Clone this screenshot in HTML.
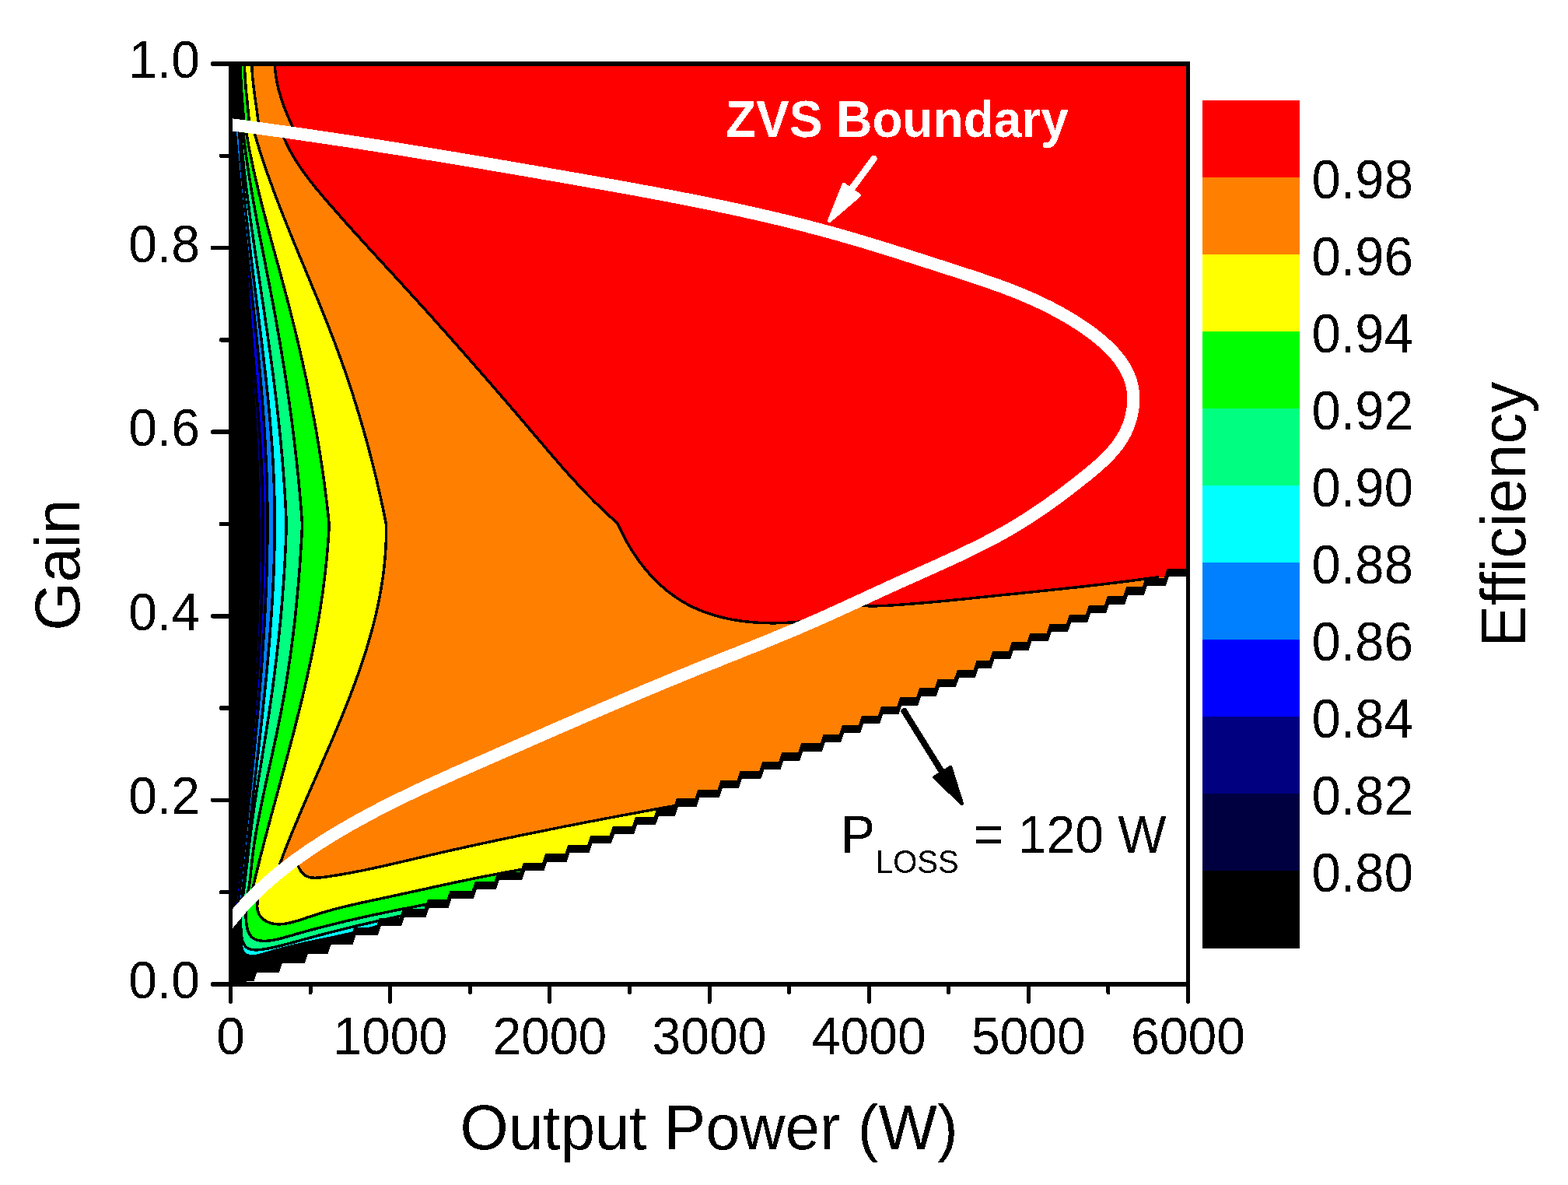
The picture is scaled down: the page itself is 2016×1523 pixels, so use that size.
<!DOCTYPE html><html><head><meta charset="utf-8"><title>Efficiency contour</title>
<style>html,body{margin:0;padding:0;background:#fff;}svg{display:block;}text{font-family:"Liberation Sans",Arial,Helvetica,sans-serif;}</style></head><body>
<svg width="2016" height="1523" viewBox="0 0 2016 1523" shape-rendering="crispEdges">
<rect width="2016" height="1523" fill="#fff"/>
<defs>
<clipPath id="cd"><path d="M1530,79 L294,79 L294,1251.5 L324.3,1251.5 L328.3,1239.7 L356.8,1239.7 L360.8,1227.8 L389.8,1227.8 L393.8,1216 L419.5,1216 L423.5,1204.2 L451.2,1204.2 L455.2,1192.4 L483.6,1192.4 L487.6,1180.5 L513.8,1180.5 L517.8,1168.7 L545.6,1168.7 L549.6,1156.9 L574.5,1156.9 L578.5,1145.1 L606.8,1145.1 L610.8,1133.2 L635.5,1133.2 L639.5,1121.4 L668.8,1121.4 L672.8,1109.6 L697.2,1109.6 L701.2,1097.8 L726.3,1097.8 L730.3,1086 L755.3,1086 L759.3,1074.1 L783.8,1074.1 L787.8,1062.3 L812.9,1062.3 L816.9,1050.5 L840.7,1050.5 L844.7,1038.7 L865.7,1038.7 L869.7,1026.8 L893.5,1026.8 L897.5,1015 L922.7,1015 L926.7,1003.2 L947.7,1003.2 L951.7,991.4 L976.1,991.4 L980.1,979.5 L1001.1,979.5 L1005.1,967.7 L1026.1,967.7 L1030.1,955.9 L1054.6,955.9 L1058.6,944 L1078.9,944 L1082.9,932.2 L1103.9,932.2 L1107.9,920.4 L1128.9,920.4 L1132.9,908.6 L1153.2,908.6 L1157.2,896.8 L1178.2,896.8 L1182.2,884.9 L1201.8,884.9 L1205.8,873.1 L1226.8,873.1 L1230.8,861.3 L1251.5,861.3 L1255.5,849.5 L1272.3,849.5 L1276.3,837.6 L1296.8,837.6 L1300.8,825.8 L1320.5,825.8 L1324.5,814 L1345.7,814 L1349.7,802.2 L1370.8,802.2 L1374.8,790.3 L1396,790.3 L1400,778.5 L1419.8,778.5 L1423.8,766.7 L1444.2,766.7 L1448.2,754.9 L1468.7,754.9 L1472.7,743 L1496.7,743 L1500.7,731.2 L1530,731.2Z"/></clipPath>
<clipPath id="ci"><path d="M299,160.4 L302.7,160.9 L306.4,161.4 L310.1,161.9 L313.8,162.3 L317.5,162.8 L321.2,163.3 L324.9,163.8 L328.6,164.3 L332.3,164.8 L336,165.3 L339.7,165.8 L343.4,166.3 L347.1,166.9 L350.8,167.4 L354.5,167.9 L358.2,168.4 L361.9,168.9 L365.6,169.4 L369.3,170 L373,170.5 L376.7,171 L380.4,171.5 L384.1,172.1 L387.8,172.6 L391.5,173.1 L395.2,173.7 L398.9,174.2 L402.6,174.7 L406.3,175.3 L410,175.8 L413.7,176.4 L417.4,176.9 L421.1,177.5 L424.8,178 L428.5,178.6 L432.2,179.1 L435.9,179.7 L439.5,180.2 L443.2,180.8 L446.9,181.3 L450.6,181.9 L454.3,182.5 L458,183 L461.7,183.6 L465.4,184.2 L469.1,184.7 L472.8,185.3 L476.5,185.9 L480.2,186.5 L483.8,187 L487.5,187.6 L491.2,188.2 L494.9,188.8 L498.6,189.4 L502.3,189.9 L506,190.5 L509.7,191.1 L513.4,191.7 L517,192.3 L520.7,192.9 L524.4,193.5 L528.1,194.1 L531.8,194.7 L535.5,195.3 L539.2,195.9 L542.8,196.5 L546.5,197.1 L550.2,197.7 L553.9,198.3 L557.6,198.9 L561.3,199.5 L565,200.1 L568.6,200.7 L572.3,201.3 L576,201.9 L579.7,202.5 L583.4,203.1 L587.1,203.7 L590.7,204.4 L594.4,205 L598.1,205.6 L601.8,206.2 L605.5,206.8 L609.2,207.4 L612.8,208.1 L616.5,208.7 L620.2,209.3 L623.9,209.9 L627.6,210.6 L631.3,211.2 L634.9,211.8 L638.6,212.4 L642.3,213.1 L646,213.7 L649.7,214.3 L653.3,214.9 L657,215.6 L660.7,216.2 L664.4,216.8 L668.1,217.5 L671.8,218.1 L675.4,218.7 L679.1,219.4 L682.8,220 L686.5,220.6 L690.2,221.3 L693.8,221.9 L697.5,222.6 L701.2,223.2 L704.9,223.8 L708.6,224.5 L712.2,225.1 L715.9,225.8 L719.6,226.4 L723.3,227 L727,227.7 L730.6,228.3 L734.3,229 L738,229.6 L741.7,230.3 L745.3,230.9 L749,231.5 L752.7,232.2 L756.4,232.8 L760.1,233.5 L763.7,234.1 L767.4,234.8 L771.1,235.4 L774.8,236.1 L778.5,236.7 L782.1,237.4 L785.8,238.1 L789.5,238.7 L793.2,239.4 L796.8,240 L800.5,240.7 L804.2,241.3 L807.9,242 L811.5,242.7 L815.2,243.3 L818.9,244 L822.6,244.7 L826.2,245.4 L829.9,246 L833.6,246.7 L837.3,247.4 L840.9,248.1 L844.6,248.8 L848.3,249.5 L851.9,250.2 L855.6,250.8 L859.3,251.5 L862.9,252.2 L866.6,253 L870.3,253.7 L873.9,254.4 L877.6,255.1 L881.3,255.8 L884.9,256.5 L888.6,257.2 L892.3,258 L895.9,258.7 L899.6,259.4 L903.2,260.2 L906.9,260.9 L910.6,261.7 L914.2,262.4 L917.9,263.2 L921.5,263.9 L925.2,264.7 L928.8,265.4 L932.5,266.2 L936.1,267 L939.8,267.8 L943.5,268.6 L947.1,269.3 L950.7,270.1 L954.4,270.9 L958,271.7 L961.7,272.6 L965.3,273.4 L969,274.2 L972.6,275 L976.3,275.8 L979.9,276.7 L983.5,277.5 L987.2,278.4 L990.8,279.2 L994.4,280.1 L998.1,280.9 L1001.7,281.8 L1005.3,282.7 L1009,283.6 L1012.6,284.4 L1016.2,285.3 L1019.9,286.2 L1023.5,287.1 L1027.1,288.1 L1030.7,289 L1034.4,289.9 L1038,290.8 L1041.6,291.8 L1045.2,292.7 L1048.8,293.7 L1052.4,294.6 L1056,295.6 L1059.7,296.6 L1063.3,297.5 L1066.9,298.5 L1070.5,299.5 L1074.1,300.5 L1077.7,301.5 L1081.3,302.6 L1084.9,303.6 L1088.5,304.6 L1092.1,305.7 L1095.7,306.7 L1099.3,307.7 L1102.9,308.8 L1106.5,309.9 L1110,310.9 L1113.6,312 L1117.2,313.1 L1120.8,314.2 L1124.4,315.3 L1128,316.4 L1131.5,317.5 L1135.1,318.6 L1138.7,319.7 L1142.3,320.8 L1145.8,321.9 L1149.4,323 L1153,324.2 L1156.6,325.3 L1160.1,326.4 L1163.7,327.6 L1167.2,328.7 L1170.8,329.8 L1174.4,331 L1177.9,332.1 L1181.5,333.2 L1185,334.4 L1188.6,335.5 L1192.1,336.7 L1195.7,337.8 L1199.3,339 L1202.8,340.1 L1206.3,341.2 L1209.9,342.4 L1213.4,343.5 L1217,344.7 L1220.5,345.8 L1224.1,346.9 L1227.6,348.1 L1231.1,349.2 L1234.7,350.4 L1238.2,351.5 L1241.7,352.7 L1245.2,353.8 L1248.8,355 L1252.3,356.1 L1255.8,357.3 L1259.3,358.5 L1262.8,359.7 L1266.3,360.9 L1269.8,362.1 L1273.3,363.3 L1276.8,364.5 L1280.3,365.7 L1283.8,367 L1287.3,368.3 L1290.7,369.5 L1294.2,370.8 L1297.7,372.2 L1301.1,373.5 L1304.6,374.9 L1308,376.2 L1311.4,377.6 L1314.9,379 L1318.3,380.5 L1321.7,381.9 L1325.1,383.4 L1328.5,384.9 L1331.9,386.5 L1335.3,388 L1338.7,389.6 L1342,391.2 L1345.4,392.9 L1348.8,394.5 L1352.1,396.3 L1355.4,398 L1358.7,399.8 L1362.1,401.6 L1365.4,403.4 L1368.7,405.3 L1371.9,407.2 L1375.2,409.1 L1378.5,411.1 L1381.7,413.1 L1385,415.2 L1388.2,417.3 L1391.4,419.4 L1394.6,421.6 L1397.8,423.8 L1401,426.1 L1404.1,428.4 L1407.3,430.8 L1410.3,433.2 L1413.3,435.6 L1416.3,438.1 L1419.2,440.7 L1422.1,443.3 L1424.9,445.9 L1427.6,448.6 L1430.2,451.3 L1432.7,454.1 L1435.2,456.9 L1437.5,459.8 L1439.8,462.7 L1441.9,465.7 L1444,468.8 L1445.9,471.9 L1447.6,475 L1449.3,478.2 L1450.8,481.5 L1452.1,484.8 L1453.4,488.1 L1454.4,491.5 L1455.3,495 L1456,498.6 L1456.6,502.1 L1457,505.8 L1457.2,509.5 L1457.3,513.2 L1457.2,516.9 L1456.9,520.6 L1456.5,524.4 L1456,528.1 L1455.2,531.8 L1454.4,535.5 L1453.4,539.2 L1452.3,542.8 L1451,546.4 L1449.6,549.9 L1448.1,553.4 L1446.5,556.8 L1444.7,560 L1442.8,563.3 L1440.8,566.4 L1438.7,569.5 L1436.6,572.5 L1434.3,575.4 L1431.9,578.3 L1429.5,581.1 L1426.9,583.9 L1424.3,586.6 L1421.7,589.3 L1419,591.9 L1416.2,594.5 L1413.4,597 L1410.6,599.5 L1407.7,602 L1404.8,604.5 L1401.9,606.9 L1398.9,609.3 L1396,611.7 L1393,614.1 L1390,616.4 L1387.1,618.8 L1384.1,621.1 L1381.2,623.4 L1378.2,625.7 L1375.2,628 L1372.2,630.3 L1369.2,632.6 L1366.2,634.8 L1363.3,637.1 L1360.2,639.3 L1357.2,641.5 L1354.2,643.7 L1351.2,645.8 L1348.2,648 L1345.1,650.1 L1342.1,652.3 L1339,654.4 L1336,656.4 L1332.9,658.5 L1329.8,660.6 L1326.7,662.6 L1323.6,664.6 L1320.5,666.6 L1317.4,668.6 L1314.2,670.6 L1311.1,672.5 L1307.9,674.4 L1304.7,676.4 L1301.6,678.2 L1298.4,680.1 L1295.1,682 L1291.9,683.8 L1288.7,685.6 L1285.4,687.4 L1282.2,689.2 L1278.9,691 L1275.6,692.7 L1272.3,694.4 L1269,696.2 L1265.7,697.9 L1262.4,699.6 L1259,701.2 L1255.7,702.9 L1252.4,704.6 L1249,706.2 L1245.6,707.8 L1242.3,709.5 L1238.9,711.1 L1235.5,712.7 L1232.1,714.3 L1228.7,715.9 L1225.3,717.4 L1221.9,719 L1218.5,720.6 L1215.1,722.1 L1211.7,723.7 L1208.3,725.2 L1204.9,726.8 L1201.4,728.3 L1198,729.9 L1194.6,731.4 L1191.2,732.9 L1187.7,734.5 L1184.3,736 L1180.9,737.5 L1177.5,739.1 L1174,740.6 L1170.6,742.1 L1167.2,743.7 L1163.8,745.2 L1160.3,746.7 L1156.9,748.3 L1153.5,749.8 L1150.1,751.4 L1146.7,752.9 L1143.3,754.5 L1139.9,756 L1136.5,757.6 L1133.1,759.2 L1129.7,760.7 L1126.3,762.3 L1122.9,763.8 L1119.5,765.4 L1116.2,767 L1112.8,768.5 L1109.4,770.1 L1106,771.7 L1102.6,773.2 L1099.2,774.8 L1095.8,776.3 L1092.4,777.9 L1089,779.4 L1085.7,781 L1082.3,782.5 L1078.9,784.1 L1075.5,785.6 L1072.1,787.2 L1068.7,788.7 L1065.3,790.2 L1061.9,791.8 L1058.5,793.3 L1055.1,794.8 L1051.7,796.3 L1048.3,797.8 L1044.9,799.3 L1041.4,800.8 L1038,802.3 L1034.6,803.8 L1031.2,805.2 L1027.7,806.7 L1024.3,808.2 L1020.9,809.6 L1017.4,811.1 L1014,812.5 L1010.5,813.9 L1007.1,815.4 L1003.7,816.8 L1000.2,818.2 L996.7,819.6 L993.3,821.1 L989.8,822.5 L986.4,823.9 L982.9,825.3 L979.5,826.7 L976,828.1 L972.5,829.5 L969.1,830.9 L965.6,832.3 L962.1,833.6 L958.7,835 L955.2,836.4 L951.7,837.8 L948.3,839.2 L944.8,840.6 L941.3,842 L937.8,843.3 L934.4,844.7 L930.9,846.1 L927.4,847.5 L924,848.9 L920.5,850.3 L917,851.7 L913.5,853.1 L910.1,854.4 L906.6,855.8 L903.1,857.2 L899.7,858.6 L896.2,860 L892.7,861.4 L889.3,862.8 L885.8,864.3 L882.4,865.7 L878.9,867.1 L875.4,868.5 L872,869.9 L868.5,871.3 L865.1,872.8 L861.6,874.2 L858.2,875.6 L854.7,877 L851.3,878.5 L847.8,879.9 L844.4,881.4 L840.9,882.8 L837.5,884.2 L834,885.7 L830.6,887.1 L827.2,888.6 L823.7,890 L820.3,891.5 L816.8,892.9 L813.4,894.4 L809.9,895.8 L806.5,897.3 L803.1,898.8 L799.6,900.2 L796.2,901.7 L792.8,903.2 L789.3,904.6 L785.9,906.1 L782.5,907.6 L779,909 L775.6,910.5 L772.2,912 L768.7,913.5 L765.3,914.9 L761.9,916.4 L758.4,917.9 L755,919.4 L751.6,920.9 L748.2,922.3 L744.7,923.8 L741.3,925.3 L737.9,926.8 L734.4,928.3 L731,929.8 L727.6,931.3 L724.2,932.8 L720.7,934.2 L717.3,935.7 L713.9,937.2 L710.5,938.7 L707,940.2 L703.6,941.7 L700.2,943.2 L696.8,944.7 L693.4,946.2 L689.9,947.7 L686.5,949.2 L683.1,950.7 L679.7,952.2 L676.2,953.7 L672.8,955.2 L669.4,956.7 L666,958.2 L662.6,959.7 L659.1,961.2 L655.7,962.7 L652.3,964.2 L648.9,965.7 L645.5,967.2 L642,968.7 L638.6,970.2 L635.2,971.7 L631.8,973.2 L628.3,974.7 L624.9,976.2 L621.5,977.7 L618.1,979.2 L614.7,980.7 L611.2,982.2 L607.8,983.7 L604.4,985.2 L601,986.7 L597.6,988.2 L594.1,989.7 L590.7,991.2 L587.3,992.7 L583.9,994.2 L580.5,995.8 L577.1,997.3 L573.7,998.8 L570.3,1000.3 L566.9,1001.9 L563.5,1003.4 L560.1,1005 L556.7,1006.5 L553.3,1008.1 L549.9,1009.6 L546.5,1011.2 L543.1,1012.8 L539.7,1014.3 L536.4,1015.9 L533,1017.5 L529.6,1019.1 L526.2,1020.7 L522.9,1022.3 L519.5,1024 L516.2,1025.6 L512.8,1027.2 L509.5,1028.9 L506.1,1030.5 L502.8,1032.2 L499.4,1033.9 L496.1,1035.5 L492.8,1037.2 L489.5,1038.9 L486.1,1040.7 L482.8,1042.4 L479.5,1044.1 L476.2,1045.9 L472.9,1047.6 L469.7,1049.4 L466.4,1051.2 L463.1,1052.9 L459.8,1054.8 L456.6,1056.6 L453.3,1058.4 L450.1,1060.2 L446.8,1062.1 L443.6,1064 L440.4,1065.9 L437.1,1067.7 L433.9,1069.7 L430.7,1071.6 L427.5,1073.5 L424.3,1075.5 L421.1,1077.5 L418,1079.4 L414.8,1081.5 L411.6,1083.5 L408.5,1085.5 L405.4,1087.6 L402.2,1089.6 L399.1,1091.7 L396,1093.8 L392.9,1096 L389.9,1098.1 L386.8,1100.3 L383.7,1102.4 L380.7,1104.6 L377.7,1106.8 L374.7,1109.1 L371.7,1111.3 L368.7,1113.6 L365.8,1115.9 L362.9,1118.2 L359.9,1120.6 L357,1122.9 L354.2,1125.3 L351.3,1127.7 L348.5,1130.1 L345.6,1132.6 L342.8,1135 L340.1,1137.5 L337.3,1140.1 L334.6,1142.6 L331.9,1145.1 L329.2,1147.7 L326.5,1150.3 L323.9,1153 L321.3,1155.6 L318.7,1158.3 L316.1,1161 L313.6,1163.8 L311.1,1166.5 L308.6,1169.3 L306.2,1172.1 L303.8,1174.9 L301.4,1177.8 L299,1180.7 L280,1180.7 L280,160.4 Z"/></clipPath>
<clipPath id="co"><path clip-rule="evenodd" d="M0,0 H2016 V1523 H0 Z M299,160.4 L302.7,160.9 L306.4,161.4 L310.1,161.9 L313.8,162.3 L317.5,162.8 L321.2,163.3 L324.9,163.8 L328.6,164.3 L332.3,164.8 L336,165.3 L339.7,165.8 L343.4,166.3 L347.1,166.9 L350.8,167.4 L354.5,167.9 L358.2,168.4 L361.9,168.9 L365.6,169.4 L369.3,170 L373,170.5 L376.7,171 L380.4,171.5 L384.1,172.1 L387.8,172.6 L391.5,173.1 L395.2,173.7 L398.9,174.2 L402.6,174.7 L406.3,175.3 L410,175.8 L413.7,176.4 L417.4,176.9 L421.1,177.5 L424.8,178 L428.5,178.6 L432.2,179.1 L435.9,179.7 L439.5,180.2 L443.2,180.8 L446.9,181.3 L450.6,181.9 L454.3,182.5 L458,183 L461.7,183.6 L465.4,184.2 L469.1,184.7 L472.8,185.3 L476.5,185.9 L480.2,186.5 L483.8,187 L487.5,187.6 L491.2,188.2 L494.9,188.8 L498.6,189.4 L502.3,189.9 L506,190.5 L509.7,191.1 L513.4,191.7 L517,192.3 L520.7,192.9 L524.4,193.5 L528.1,194.1 L531.8,194.7 L535.5,195.3 L539.2,195.9 L542.8,196.5 L546.5,197.1 L550.2,197.7 L553.9,198.3 L557.6,198.9 L561.3,199.5 L565,200.1 L568.6,200.7 L572.3,201.3 L576,201.9 L579.7,202.5 L583.4,203.1 L587.1,203.7 L590.7,204.4 L594.4,205 L598.1,205.6 L601.8,206.2 L605.5,206.8 L609.2,207.4 L612.8,208.1 L616.5,208.7 L620.2,209.3 L623.9,209.9 L627.6,210.6 L631.3,211.2 L634.9,211.8 L638.6,212.4 L642.3,213.1 L646,213.7 L649.7,214.3 L653.3,214.9 L657,215.6 L660.7,216.2 L664.4,216.8 L668.1,217.5 L671.8,218.1 L675.4,218.7 L679.1,219.4 L682.8,220 L686.5,220.6 L690.2,221.3 L693.8,221.9 L697.5,222.6 L701.2,223.2 L704.9,223.8 L708.6,224.5 L712.2,225.1 L715.9,225.8 L719.6,226.4 L723.3,227 L727,227.7 L730.6,228.3 L734.3,229 L738,229.6 L741.7,230.3 L745.3,230.9 L749,231.5 L752.7,232.2 L756.4,232.8 L760.1,233.5 L763.7,234.1 L767.4,234.8 L771.1,235.4 L774.8,236.1 L778.5,236.7 L782.1,237.4 L785.8,238.1 L789.5,238.7 L793.2,239.4 L796.8,240 L800.5,240.7 L804.2,241.3 L807.9,242 L811.5,242.7 L815.2,243.3 L818.9,244 L822.6,244.7 L826.2,245.4 L829.9,246 L833.6,246.7 L837.3,247.4 L840.9,248.1 L844.6,248.8 L848.3,249.5 L851.9,250.2 L855.6,250.8 L859.3,251.5 L862.9,252.2 L866.6,253 L870.3,253.7 L873.9,254.4 L877.6,255.1 L881.3,255.8 L884.9,256.5 L888.6,257.2 L892.3,258 L895.9,258.7 L899.6,259.4 L903.2,260.2 L906.9,260.9 L910.6,261.7 L914.2,262.4 L917.9,263.2 L921.5,263.9 L925.2,264.7 L928.8,265.4 L932.5,266.2 L936.1,267 L939.8,267.8 L943.5,268.6 L947.1,269.3 L950.7,270.1 L954.4,270.9 L958,271.7 L961.7,272.6 L965.3,273.4 L969,274.2 L972.6,275 L976.3,275.8 L979.9,276.7 L983.5,277.5 L987.2,278.4 L990.8,279.2 L994.4,280.1 L998.1,280.9 L1001.7,281.8 L1005.3,282.7 L1009,283.6 L1012.6,284.4 L1016.2,285.3 L1019.9,286.2 L1023.5,287.1 L1027.1,288.1 L1030.7,289 L1034.4,289.9 L1038,290.8 L1041.6,291.8 L1045.2,292.7 L1048.8,293.7 L1052.4,294.6 L1056,295.6 L1059.7,296.6 L1063.3,297.5 L1066.9,298.5 L1070.5,299.5 L1074.1,300.5 L1077.7,301.5 L1081.3,302.6 L1084.9,303.6 L1088.5,304.6 L1092.1,305.7 L1095.7,306.7 L1099.3,307.7 L1102.9,308.8 L1106.5,309.9 L1110,310.9 L1113.6,312 L1117.2,313.1 L1120.8,314.2 L1124.4,315.3 L1128,316.4 L1131.5,317.5 L1135.1,318.6 L1138.7,319.7 L1142.3,320.8 L1145.8,321.9 L1149.4,323 L1153,324.2 L1156.6,325.3 L1160.1,326.4 L1163.7,327.6 L1167.2,328.7 L1170.8,329.8 L1174.4,331 L1177.9,332.1 L1181.5,333.2 L1185,334.4 L1188.6,335.5 L1192.1,336.7 L1195.7,337.8 L1199.3,339 L1202.8,340.1 L1206.3,341.2 L1209.9,342.4 L1213.4,343.5 L1217,344.7 L1220.5,345.8 L1224.1,346.9 L1227.6,348.1 L1231.1,349.2 L1234.7,350.4 L1238.2,351.5 L1241.7,352.7 L1245.2,353.8 L1248.8,355 L1252.3,356.1 L1255.8,357.3 L1259.3,358.5 L1262.8,359.7 L1266.3,360.9 L1269.8,362.1 L1273.3,363.3 L1276.8,364.5 L1280.3,365.7 L1283.8,367 L1287.3,368.3 L1290.7,369.5 L1294.2,370.8 L1297.7,372.2 L1301.1,373.5 L1304.6,374.9 L1308,376.2 L1311.4,377.6 L1314.9,379 L1318.3,380.5 L1321.7,381.9 L1325.1,383.4 L1328.5,384.9 L1331.9,386.5 L1335.3,388 L1338.7,389.6 L1342,391.2 L1345.4,392.9 L1348.8,394.5 L1352.1,396.3 L1355.4,398 L1358.7,399.8 L1362.1,401.6 L1365.4,403.4 L1368.7,405.3 L1371.9,407.2 L1375.2,409.1 L1378.5,411.1 L1381.7,413.1 L1385,415.2 L1388.2,417.3 L1391.4,419.4 L1394.6,421.6 L1397.8,423.8 L1401,426.1 L1404.1,428.4 L1407.3,430.8 L1410.3,433.2 L1413.3,435.6 L1416.3,438.1 L1419.2,440.7 L1422.1,443.3 L1424.9,445.9 L1427.6,448.6 L1430.2,451.3 L1432.7,454.1 L1435.2,456.9 L1437.5,459.8 L1439.8,462.7 L1441.9,465.7 L1444,468.8 L1445.9,471.9 L1447.6,475 L1449.3,478.2 L1450.8,481.5 L1452.1,484.8 L1453.4,488.1 L1454.4,491.5 L1455.3,495 L1456,498.6 L1456.6,502.1 L1457,505.8 L1457.2,509.5 L1457.3,513.2 L1457.2,516.9 L1456.9,520.6 L1456.5,524.4 L1456,528.1 L1455.2,531.8 L1454.4,535.5 L1453.4,539.2 L1452.3,542.8 L1451,546.4 L1449.6,549.9 L1448.1,553.4 L1446.5,556.8 L1444.7,560 L1442.8,563.3 L1440.8,566.4 L1438.7,569.5 L1436.6,572.5 L1434.3,575.4 L1431.9,578.3 L1429.5,581.1 L1426.9,583.9 L1424.3,586.6 L1421.7,589.3 L1419,591.9 L1416.2,594.5 L1413.4,597 L1410.6,599.5 L1407.7,602 L1404.8,604.5 L1401.9,606.9 L1398.9,609.3 L1396,611.7 L1393,614.1 L1390,616.4 L1387.1,618.8 L1384.1,621.1 L1381.2,623.4 L1378.2,625.7 L1375.2,628 L1372.2,630.3 L1369.2,632.6 L1366.2,634.8 L1363.3,637.1 L1360.2,639.3 L1357.2,641.5 L1354.2,643.7 L1351.2,645.8 L1348.2,648 L1345.1,650.1 L1342.1,652.3 L1339,654.4 L1336,656.4 L1332.9,658.5 L1329.8,660.6 L1326.7,662.6 L1323.6,664.6 L1320.5,666.6 L1317.4,668.6 L1314.2,670.6 L1311.1,672.5 L1307.9,674.4 L1304.7,676.4 L1301.6,678.2 L1298.4,680.1 L1295.1,682 L1291.9,683.8 L1288.7,685.6 L1285.4,687.4 L1282.2,689.2 L1278.9,691 L1275.6,692.7 L1272.3,694.4 L1269,696.2 L1265.7,697.9 L1262.4,699.6 L1259,701.2 L1255.7,702.9 L1252.4,704.6 L1249,706.2 L1245.6,707.8 L1242.3,709.5 L1238.9,711.1 L1235.5,712.7 L1232.1,714.3 L1228.7,715.9 L1225.3,717.4 L1221.9,719 L1218.5,720.6 L1215.1,722.1 L1211.7,723.7 L1208.3,725.2 L1204.9,726.8 L1201.4,728.3 L1198,729.9 L1194.6,731.4 L1191.2,732.9 L1187.7,734.5 L1184.3,736 L1180.9,737.5 L1177.5,739.1 L1174,740.6 L1170.6,742.1 L1167.2,743.7 L1163.8,745.2 L1160.3,746.7 L1156.9,748.3 L1153.5,749.8 L1150.1,751.4 L1146.7,752.9 L1143.3,754.5 L1139.9,756 L1136.5,757.6 L1133.1,759.2 L1129.7,760.7 L1126.3,762.3 L1122.9,763.8 L1119.5,765.4 L1116.2,767 L1112.8,768.5 L1109.4,770.1 L1106,771.7 L1102.6,773.2 L1099.2,774.8 L1095.8,776.3 L1092.4,777.9 L1089,779.4 L1085.7,781 L1082.3,782.5 L1078.9,784.1 L1075.5,785.6 L1072.1,787.2 L1068.7,788.7 L1065.3,790.2 L1061.9,791.8 L1058.5,793.3 L1055.1,794.8 L1051.7,796.3 L1048.3,797.8 L1044.9,799.3 L1041.4,800.8 L1038,802.3 L1034.6,803.8 L1031.2,805.2 L1027.7,806.7 L1024.3,808.2 L1020.9,809.6 L1017.4,811.1 L1014,812.5 L1010.5,813.9 L1007.1,815.4 L1003.7,816.8 L1000.2,818.2 L996.7,819.6 L993.3,821.1 L989.8,822.5 L986.4,823.9 L982.9,825.3 L979.5,826.7 L976,828.1 L972.5,829.5 L969.1,830.9 L965.6,832.3 L962.1,833.6 L958.7,835 L955.2,836.4 L951.7,837.8 L948.3,839.2 L944.8,840.6 L941.3,842 L937.8,843.3 L934.4,844.7 L930.9,846.1 L927.4,847.5 L924,848.9 L920.5,850.3 L917,851.7 L913.5,853.1 L910.1,854.4 L906.6,855.8 L903.1,857.2 L899.7,858.6 L896.2,860 L892.7,861.4 L889.3,862.8 L885.8,864.3 L882.4,865.7 L878.9,867.1 L875.4,868.5 L872,869.9 L868.5,871.3 L865.1,872.8 L861.6,874.2 L858.2,875.6 L854.7,877 L851.3,878.5 L847.8,879.9 L844.4,881.4 L840.9,882.8 L837.5,884.2 L834,885.7 L830.6,887.1 L827.2,888.6 L823.7,890 L820.3,891.5 L816.8,892.9 L813.4,894.4 L809.9,895.8 L806.5,897.3 L803.1,898.8 L799.6,900.2 L796.2,901.7 L792.8,903.2 L789.3,904.6 L785.9,906.1 L782.5,907.6 L779,909 L775.6,910.5 L772.2,912 L768.7,913.5 L765.3,914.9 L761.9,916.4 L758.4,917.9 L755,919.4 L751.6,920.9 L748.2,922.3 L744.7,923.8 L741.3,925.3 L737.9,926.8 L734.4,928.3 L731,929.8 L727.6,931.3 L724.2,932.8 L720.7,934.2 L717.3,935.7 L713.9,937.2 L710.5,938.7 L707,940.2 L703.6,941.7 L700.2,943.2 L696.8,944.7 L693.4,946.2 L689.9,947.7 L686.5,949.2 L683.1,950.7 L679.7,952.2 L676.2,953.7 L672.8,955.2 L669.4,956.7 L666,958.2 L662.6,959.7 L659.1,961.2 L655.7,962.7 L652.3,964.2 L648.9,965.7 L645.5,967.2 L642,968.7 L638.6,970.2 L635.2,971.7 L631.8,973.2 L628.3,974.7 L624.9,976.2 L621.5,977.7 L618.1,979.2 L614.7,980.7 L611.2,982.2 L607.8,983.7 L604.4,985.2 L601,986.7 L597.6,988.2 L594.1,989.7 L590.7,991.2 L587.3,992.7 L583.9,994.2 L580.5,995.8 L577.1,997.3 L573.7,998.8 L570.3,1000.3 L566.9,1001.9 L563.5,1003.4 L560.1,1005 L556.7,1006.5 L553.3,1008.1 L549.9,1009.6 L546.5,1011.2 L543.1,1012.8 L539.7,1014.3 L536.4,1015.9 L533,1017.5 L529.6,1019.1 L526.2,1020.7 L522.9,1022.3 L519.5,1024 L516.2,1025.6 L512.8,1027.2 L509.5,1028.9 L506.1,1030.5 L502.8,1032.2 L499.4,1033.9 L496.1,1035.5 L492.8,1037.2 L489.5,1038.9 L486.1,1040.7 L482.8,1042.4 L479.5,1044.1 L476.2,1045.9 L472.9,1047.6 L469.7,1049.4 L466.4,1051.2 L463.1,1052.9 L459.8,1054.8 L456.6,1056.6 L453.3,1058.4 L450.1,1060.2 L446.8,1062.1 L443.6,1064 L440.4,1065.9 L437.1,1067.7 L433.9,1069.7 L430.7,1071.6 L427.5,1073.5 L424.3,1075.5 L421.1,1077.5 L418,1079.4 L414.8,1081.5 L411.6,1083.5 L408.5,1085.5 L405.4,1087.6 L402.2,1089.6 L399.1,1091.7 L396,1093.8 L392.9,1096 L389.9,1098.1 L386.8,1100.3 L383.7,1102.4 L380.7,1104.6 L377.7,1106.8 L374.7,1109.1 L371.7,1111.3 L368.7,1113.6 L365.8,1115.9 L362.9,1118.2 L359.9,1120.6 L357,1122.9 L354.2,1125.3 L351.3,1127.7 L348.5,1130.1 L345.6,1132.6 L342.8,1135 L340.1,1137.5 L337.3,1140.1 L334.6,1142.6 L331.9,1145.1 L329.2,1147.7 L326.5,1150.3 L323.9,1153 L321.3,1155.6 L318.7,1158.3 L316.1,1161 L313.6,1163.8 L311.1,1166.5 L308.6,1169.3 L306.2,1172.1 L303.8,1174.9 L301.4,1177.8 L299,1180.7 L280,1180.7 L280,160.4 Z"/></clipPath>
<filter id="tc" x="-10%" y="-10%" width="120%" height="120%"><feComponentTransfer><feFuncA type="discrete" tableValues="0 1"/></feComponentTransfer></filter>
<clipPath id="cz"><rect x="299" y="0" width="1300" height="1523"/></clipPath>
</defs>
<path fill="#000" d="M1530,79 L294,79 L294,1262 L326.5,1261.3 L330.5,1249.5 L359,1249.5 L363,1237.6 L392,1237.6 L396,1225.8 L421.7,1225.8 L425.7,1214 L453.4,1214 L457.4,1202.2 L485.8,1202.2 L489.8,1190.3 L516,1190.3 L520,1178.5 L547.8,1178.5 L551.8,1166.7 L576.7,1166.7 L580.7,1154.9 L609,1154.9 L613,1143 L637.7,1143 L641.7,1131.2 L671,1131.2 L675,1119.4 L699.4,1119.4 L703.4,1107.6 L728.5,1107.6 L732.5,1095.8 L757.5,1095.8 L761.5,1083.9 L786,1083.9 L790,1072.1 L815.1,1072.1 L819.1,1060.3 L842.9,1060.3 L846.9,1048.5 L867.9,1048.5 L871.9,1036.6 L895.7,1036.6 L899.7,1024.8 L924.9,1024.8 L928.9,1013 L949.9,1013 L953.9,1001.1 L978.3,1001.1 L982.3,989.3 L1003.3,989.3 L1007.3,977.5 L1028.3,977.5 L1032.3,965.7 L1056.8,965.7 L1060.8,953.8 L1081.1,953.8 L1085.1,942 L1106.1,942 L1110.1,930.2 L1131.1,930.2 L1135.1,918.4 L1155.4,918.4 L1159.4,906.5 L1180.4,906.5 L1184.4,894.7 L1204,894.7 L1208,882.9 L1229,882.9 L1233,871.1 L1253.7,871.1 L1257.7,859.2 L1274.5,859.2 L1278.5,847.4 L1299,847.4 L1303,835.6 L1322.7,835.6 L1326.7,823.8 L1347.9,823.8 L1351.9,812 L1373,812 L1377,800.1 L1398.2,800.1 L1402.2,788.3 L1422,788.3 L1426,776.5 L1446.4,776.5 L1450.4,764.6 L1470.9,764.6 L1474.9,752.8 L1498.9,752.8 L1502.9,741 L1530,741Z"/>
<g clip-path="url(#cd)">
<g clip-path="url(#ci)">
<path fill="#000080" d="M299,165 L299.3,169 L299.5,173 L299.8,177 L300.2,181 L300.5,185 L300.8,189.1 L301.2,193.1 L301.6,197.1 L302,201.1 L302.4,205 L302.8,209 L303.2,213 L303.6,217 L304.1,221 L304.5,225 L305,229 L305.4,233 L305.9,237 L306.4,241 L306.8,245 L307.3,249 L307.8,253 L308.2,256.9 L308.7,260.9 L309.1,264.9 L309.6,268.9 L310,272.9 L310.5,276.9 L310.9,280.9 L311.4,284.9 L311.8,288.9 L312.2,292.9 L312.6,296.9 L313,300.9 L313.4,304.9 L313.8,308.9 L314.2,312.9 L314.6,316.9 L314.9,320.9 L315.3,324.9 L315.6,328.9 L316,332.9 L316.3,336.9 L316.6,340.9 L316.9,344.9 L317.2,348.9 L317.5,352.9 L317.8,356.9 L318,360.9 L318.3,364.9 L318.6,368.9 L318.8,373 L319.1,377 L319.3,381 L319.6,385 L319.8,389 L320.1,393 L320.3,397 L320.5,401.1 L320.8,405.1 L321,409.1 L321.3,413.1 L321.5,417.1 L321.7,421.2 L322,425.2 L322.2,429.2 L322.5,433.2 L322.7,437.2 L323,441.2 L323.3,445.3 L323.5,449.3 L323.8,453.3 L324.1,457.3 L324.4,461.3 L324.6,465.3 L324.9,469.4 L325.2,473.4 L325.5,477.4 L325.7,481.4 L326,485.4 L326.3,489.5 L326.6,493.5 L326.9,497.5 L327.1,501.5 L327.4,505.5 L327.7,509.5 L328,513.6 L328.2,517.6 L328.5,521.6 L328.8,525.6 L329,529.6 L329.3,533.7 L329.6,537.7 L329.8,541.7 L330.1,545.7 L330.3,549.7 L330.5,553.7 L330.8,557.8 L331,561.8 L331.2,565.8 L331.4,569.8 L331.7,573.8 L331.9,577.9 L332.1,581.9 L332.2,585.9 L332.4,589.9 L332.6,593.9 L332.8,598 L332.9,602 L333.1,606 L333.2,610 L333.4,614 L333.5,618.1 L333.6,622.1 L333.7,626.1 L333.8,630.1 L333.9,634.1 L334,638.2 L334.1,642.2 L334.2,646.2 L334.3,650.2 L334.3,654.2 L334.4,658.3 L334.4,662.3 L334.5,666.3 L334.5,670.3 L334.6,674.4 L334.6,678.4 L334.6,682.4 L334.6,686.4 L334.6,690.4 L334.6,694.5 L334.6,698.5 L334.6,702.5 L334.6,706.5 L334.6,710.5 L334.5,714.6 L334.5,718.6 L334.5,722.6 L334.4,726.6 L334.4,730.7 L334.3,734.7 L334.2,738.7 L334.2,742.7 L334.1,746.7 L334,750.8 L333.9,754.8 L333.8,758.8 L333.7,762.8 L333.6,766.8 L333.5,770.9 L333.4,774.9 L333.2,778.9 L333.1,782.9 L333,786.9 L332.8,791 L332.7,795 L332.6,799 L332.4,803 L332.2,807.1 L332.1,811.1 L331.9,815.1 L331.7,819.1 L331.5,823.1 L331.4,827.2 L331.2,831.2 L331,835.2 L330.8,839.2 L330.6,843.2 L330.4,847.3 L330.1,851.3 L329.9,855.3 L329.7,859.3 L329.5,863.3 L329.2,867.3 L329,871.4 L328.8,875.4 L328.5,879.4 L328.3,883.4 L328,887.4 L327.7,891.5 L327.5,895.5 L327.2,899.5 L326.9,903.5 L326.7,907.5 L326.4,911.5 L326.1,915.6 L325.8,919.6 L325.5,923.6 L325.2,927.6 L324.9,931.6 L324.6,935.6 L324.3,939.6 L324,943.7 L323.7,947.7 L323.4,951.7 L323.1,955.7 L322.7,959.7 L322.4,963.7 L322.1,967.7 L321.7,971.8 L321.4,975.8 L321,979.8 L320.7,983.8 L320.4,987.8 L320,991.8 L319.6,995.8 L319.3,999.8 L318.9,1003.9 L318.6,1007.9 L318.2,1011.9 L317.8,1015.9 L317.4,1019.9 L317.1,1023.9 L316.7,1027.9 L316.3,1031.9 L315.9,1035.9 L315.5,1039.9 L315.1,1043.9 L314.8,1048 L314.4,1052 L314,1056 L313.6,1060 L313.2,1064 L312.8,1068 L312.4,1072 L311.9,1076 L311.5,1080 L311.1,1084 L310.7,1088 L310.3,1092 L309.9,1096 L309.4,1100 L309,1104 L308.6,1108 L308.2,1112 L307.7,1116 L307.3,1120 L306.9,1124 L306.4,1128 L306,1132 L305.6,1136 L305.1,1140 L304.7,1144 L304.2,1148 L303.8,1152 L303.3,1156 L302.9,1160 L302.4,1164 L302,1168 L1600,1168 L1600,165 Z"/>
<path fill="#0000ff" d="M299,165 L299.3,169 L299.6,173 L300,177 L300.3,181 L300.7,185 L301,189 L301.4,193.1 L301.8,197.1 L302.2,201.1 L302.6,205.1 L303,209.1 L303.4,213.1 L303.8,217 L304.3,221 L304.7,225 L305.1,229 L305.5,233 L306,237 L306.4,241 L306.9,245 L307.3,249 L307.7,253 L308.2,257 L308.6,261 L309,265 L309.5,269 L309.9,273 L310.3,277 L310.7,281 L311.2,285 L311.6,289 L312,293 L312.4,296.9 L312.8,300.9 L313.2,304.9 L313.6,308.9 L313.9,312.9 L314.3,316.9 L314.7,320.9 L315.1,324.9 L315.4,328.9 L315.8,333 L316.1,337 L316.4,341 L316.8,345 L317.1,349 L317.4,353 L317.8,357 L318.1,361 L318.4,365 L318.7,369 L319,373 L319.3,377 L319.6,381.1 L319.9,385.1 L320.2,389.1 L320.5,393.1 L320.8,397.1 L321.1,401.1 L321.4,405.1 L321.7,409.1 L322,413.2 L322.3,417.2 L322.7,421.2 L323,425.2 L323.3,429.2 L323.6,433.2 L323.9,437.2 L324.3,441.3 L324.6,445.3 L325,449.3 L325.3,453.3 L325.6,457.3 L326,461.3 L326.3,465.4 L326.7,469.4 L327,473.4 L327.4,477.4 L327.7,481.4 L328.1,485.4 L328.4,489.5 L328.8,493.5 L329.1,497.5 L329.5,501.5 L329.8,505.5 L330.1,509.5 L330.5,513.6 L330.8,517.6 L331.1,521.6 L331.5,525.6 L331.8,529.6 L332.1,533.7 L332.4,537.7 L332.7,541.7 L333,545.7 L333.3,549.7 L333.6,553.7 L333.9,557.8 L334.1,561.8 L334.4,565.8 L334.7,569.8 L334.9,573.8 L335.2,577.9 L335.4,581.9 L335.6,585.9 L335.8,589.9 L336,593.9 L336.2,598 L336.4,602 L336.6,606 L336.7,610 L336.9,614 L337,618.1 L337.2,622.1 L337.3,626.1 L337.4,630.1 L337.5,634.1 L337.6,638.2 L337.7,642.2 L337.8,646.2 L337.9,650.2 L337.9,654.2 L338,658.3 L338.1,662.3 L338.1,666.3 L338.1,670.3 L338.2,674.4 L338.2,678.4 L338.2,682.4 L338.2,686.4 L338.2,690.4 L338.2,694.5 L338.1,698.5 L338.1,702.5 L338.1,706.5 L338,710.5 L338,714.6 L337.9,718.6 L337.9,722.6 L337.8,726.6 L337.7,730.6 L337.6,734.7 L337.5,738.7 L337.4,742.7 L337.3,746.7 L337.2,750.8 L337.1,754.8 L336.9,758.8 L336.8,762.8 L336.7,766.8 L336.5,770.9 L336.4,774.9 L336.2,778.9 L336,782.9 L335.8,786.9 L335.7,791 L335.5,795 L335.3,799 L335.1,803 L334.9,807 L334.7,811.1 L334.5,815.1 L334.2,819.1 L334,823.1 L333.8,827.1 L333.6,831.2 L333.3,835.2 L333.1,839.2 L332.8,843.2 L332.6,847.2 L332.3,851.3 L332,855.3 L331.8,859.3 L331.5,863.3 L331.2,867.3 L330.9,871.3 L330.6,875.4 L330.3,879.4 L330,883.4 L329.7,887.4 L329.4,891.4 L329.1,895.5 L328.8,899.5 L328.5,903.5 L328.1,907.5 L327.8,911.5 L327.5,915.5 L327.1,919.6 L326.8,923.6 L326.5,927.6 L326.1,931.6 L325.8,935.6 L325.4,939.6 L325.1,943.6 L324.7,947.7 L324.3,951.7 L324,955.7 L323.6,959.7 L323.2,963.7 L322.9,967.7 L322.5,971.7 L322.1,975.8 L321.7,979.8 L321.3,983.8 L320.9,987.8 L320.5,991.8 L320.2,995.8 L319.8,999.8 L319.4,1003.8 L319,1007.8 L318.6,1011.9 L318.2,1015.9 L317.7,1019.9 L317.3,1023.9 L316.9,1027.9 L316.5,1031.9 L316.1,1035.9 L315.7,1039.9 L315.3,1043.9 L314.9,1047.9 L314.4,1051.9 L314,1055.9 L313.6,1060 L313.2,1064 L312.7,1068 L312.3,1072 L311.9,1076 L311.5,1080 L311,1084 L310.6,1088 L310.2,1092 L309.7,1096 L309.3,1100 L308.9,1104 L308.5,1108 L308,1112 L307.6,1116 L307.2,1120 L306.7,1124 L306.3,1128 L305.9,1132 L305.4,1136 L305,1140 L304.6,1144 L304.1,1148 L303.7,1152 L303.3,1156 L302.8,1160 L302.4,1164 L302,1168 L1600,1168 L1600,165 Z"/>
<path fill="#0080ff" d="M302,165 L302.3,169 L302.6,173 L303,177 L303.3,181 L303.7,185 L304,189 L304.4,193 L304.8,197 L305.1,201 L305.5,205 L305.9,209 L306.3,213 L306.6,217 L307,221 L307.4,225 L307.8,229 L308.2,233 L308.6,237 L309,241 L309.4,245 L309.9,249 L310.3,253 L310.7,257 L311.1,261 L311.5,265 L312,269 L312.4,273 L312.8,277 L313.3,281 L313.7,285 L314.1,289 L314.6,293 L315,297 L315.4,301 L315.9,305 L316.3,309 L316.8,313 L317.2,317 L317.7,321.1 L318.1,325.1 L318.5,329.1 L319,333.1 L319.4,337.1 L319.9,341.1 L320.3,345.1 L320.8,349.1 L321.2,353.1 L321.7,357.1 L322.1,361.1 L322.5,365.1 L323,369.1 L323.4,373.1 L323.9,377.2 L324.3,381.2 L324.7,385.2 L325.2,389.2 L325.6,393.2 L326,397.2 L326.5,401.2 L326.9,405.2 L327.3,409.2 L327.8,413.2 L328.2,417.3 L328.6,421.3 L329,425.3 L329.4,429.3 L329.8,433.3 L330.2,437.3 L330.6,441.3 L331,445.3 L331.4,449.4 L331.8,453.4 L332.2,457.4 L332.6,461.4 L333,465.4 L333.4,469.4 L333.7,473.4 L334.1,477.4 L334.5,481.5 L334.8,485.5 L335.2,489.5 L335.5,493.5 L335.9,497.5 L336.2,501.5 L336.5,505.5 L336.9,509.6 L337.2,513.6 L337.5,517.6 L337.8,521.6 L338.1,525.6 L338.4,529.6 L338.7,533.6 L339,537.7 L339.3,541.7 L339.5,545.7 L339.8,549.7 L340,553.7 L340.3,557.7 L340.5,561.8 L340.8,565.8 L341,569.8 L341.2,573.8 L341.4,577.8 L341.6,581.8 L341.8,585.9 L342,589.9 L342.2,593.9 L342.4,597.9 L342.6,601.9 L342.7,606 L342.9,610 L343,614 L343.1,618 L343.2,622 L343.4,626 L343.5,630.1 L343.6,634.1 L343.6,638.1 L343.7,642.1 L343.8,646.1 L343.8,650.2 L343.9,654.2 L343.9,658.2 L343.9,662.2 L344,666.2 L344,670.3 L344,674.3 L344,678.3 L343.9,682.3 L343.9,686.3 L343.9,690.4 L343.8,694.4 L343.8,698.4 L343.7,702.4 L343.7,706.4 L343.6,710.5 L343.5,714.5 L343.4,718.5 L343.3,722.5 L343.2,726.6 L343.1,730.6 L343,734.6 L342.9,738.6 L342.7,742.6 L342.6,746.7 L342.5,750.7 L342.3,754.7 L342.1,758.7 L342,762.7 L341.8,766.8 L341.6,770.8 L341.4,774.8 L341.2,778.8 L341,782.8 L340.8,786.9 L340.6,790.9 L340.4,794.9 L340.2,798.9 L340,802.9 L339.7,807 L339.5,811 L339.2,815 L339,819 L338.7,823 L338.5,827.1 L338.2,831.1 L337.9,835.1 L337.6,839.1 L337.4,843.1 L337.1,847.2 L336.8,851.2 L336.5,855.2 L336.2,859.2 L335.9,863.2 L335.6,867.3 L335.2,871.3 L334.9,875.3 L334.6,879.3 L334.3,883.3 L333.9,887.4 L333.6,891.4 L333.3,895.4 L332.9,899.4 L332.6,903.4 L332.2,907.4 L331.9,911.5 L331.5,915.5 L331.2,919.5 L330.8,923.5 L330.4,927.5 L330.1,931.5 L329.7,935.6 L329.3,939.6 L328.9,943.6 L328.5,947.6 L328.2,951.6 L327.8,955.6 L327.4,959.6 L327,963.7 L326.6,967.7 L326.2,971.7 L325.8,975.7 L325.4,979.7 L325,983.7 L324.6,987.7 L324.2,991.8 L323.8,995.8 L323.4,999.8 L323,1003.8 L322.6,1007.8 L322.1,1011.8 L321.7,1015.8 L321.3,1019.8 L320.9,1023.8 L320.5,1027.9 L320.1,1031.9 L319.7,1035.9 L319.2,1039.9 L318.8,1043.9 L318.4,1047.9 L318,1051.9 L317.5,1055.9 L317.1,1059.9 L316.7,1063.9 L316.3,1067.9 L315.9,1072 L315.4,1076 L315,1080 L314.6,1084 L314.2,1088 L313.8,1092 L313.3,1096 L312.9,1100 L312.5,1104 L312.1,1108 L311.7,1112 L311.3,1116 L310.8,1120 L310.4,1124 L310,1128 L309.6,1132 L309.2,1136 L308.8,1140 L308.4,1144 L308,1148 L307.6,1152 L307.2,1156 L306.8,1160 L306.4,1164 L306,1168 L1600,1168 L1600,165 Z"/>
<path fill="#00ffff" d="M307.5,165 L307.7,169 L307.9,173 L308.1,177 L308.4,181 L308.6,185 L308.9,189.1 L309.2,193.1 L309.4,197.1 L309.7,201.1 L310,205.1 L310.3,209.1 L310.6,213.1 L311,217.1 L311.3,221.1 L311.6,225.1 L312,229.1 L312.3,233.1 L312.7,237.1 L313.1,241.2 L313.5,245.2 L313.9,249.2 L314.2,253.2 L314.6,257.2 L315.1,261.2 L315.5,265.2 L315.9,269.2 L316.3,273.2 L316.7,277.2 L317.2,281.2 L317.6,285.3 L318.1,289.3 L318.5,293.3 L319,297.3 L319.4,301.3 L319.9,305.3 L320.4,309.3 L320.8,313.3 L321.3,317.3 L321.8,321.3 L322.3,325.3 L322.7,329.3 L323.2,333.4 L323.7,337.4 L324.2,341.4 L324.7,345.4 L325.2,349.4 L325.7,353.4 L326.2,357.4 L326.7,361.4 L327.2,365.4 L327.7,369.4 L328.2,373.5 L328.7,377.5 L329.2,381.5 L329.7,385.5 L330.2,389.5 L330.7,393.5 L331.2,397.5 L331.7,401.5 L332.2,405.5 L332.7,409.5 L333.2,413.6 L333.7,417.6 L334.2,421.6 L334.7,425.6 L335.2,429.6 L335.7,433.6 L336.2,437.6 L336.7,441.6 L337.1,445.6 L337.6,449.6 L338.1,453.7 L338.6,457.7 L339,461.7 L339.5,465.7 L340,469.7 L340.4,473.7 L340.9,477.7 L341.3,481.7 L341.8,485.7 L342.2,489.8 L342.6,493.8 L343,497.8 L343.5,501.8 L343.9,505.8 L344.3,509.8 L344.7,513.8 L345.1,517.8 L345.5,521.9 L345.8,525.9 L346.2,529.9 L346.6,533.9 L346.9,537.9 L347.3,541.9 L347.6,545.9 L348,550 L348.3,554 L348.6,558 L348.9,562 L349.2,566 L349.5,570 L349.8,574 L350.1,578 L350.3,582.1 L350.6,586.1 L350.8,590.1 L351,594.1 L351.3,598.1 L351.5,602.1 L351.7,606.2 L351.8,610.2 L352,614.2 L352.2,618.2 L352.3,622.2 L352.5,626.2 L352.6,630.2 L352.7,634.3 L352.8,638.3 L352.9,642.3 L353,646.3 L353.1,650.3 L353.1,654.3 L353.2,658.4 L353.2,662.4 L353.2,666.4 L353.2,670.4 L353.2,674.4 L353.2,678.4 L353.2,682.5 L353.1,686.5 L353.1,690.5 L353,694.5 L353,698.5 L352.9,702.6 L352.8,706.6 L352.7,710.6 L352.6,714.6 L352.5,718.6 L352.4,722.6 L352.2,726.7 L352.1,730.7 L351.9,734.7 L351.8,738.7 L351.6,742.7 L351.4,746.7 L351.2,750.8 L351,754.8 L350.8,758.8 L350.6,762.8 L350.4,766.8 L350.1,770.9 L349.9,774.9 L349.7,778.9 L349.4,782.9 L349.1,786.9 L348.9,790.9 L348.6,795 L348.3,799 L348,803 L347.7,807 L347.4,811 L347.1,815.1 L346.8,819.1 L346.5,823.1 L346.2,827.1 L345.8,831.1 L345.5,835.1 L345.1,839.2 L344.8,843.2 L344.4,847.2 L344.1,851.2 L343.7,855.2 L343.3,859.3 L343,863.3 L342.6,867.3 L342.2,871.3 L341.8,875.3 L341.4,879.3 L341,883.4 L340.6,887.4 L340.2,891.4 L339.8,895.4 L339.4,899.4 L338.9,903.4 L338.5,907.5 L338.1,911.5 L337.7,915.5 L337.2,919.5 L336.8,923.5 L336.4,927.5 L335.9,931.5 L335.5,935.6 L335,939.6 L334.6,943.6 L334.1,947.6 L333.7,951.6 L333.2,955.6 L332.8,959.6 L332.3,963.7 L331.9,967.7 L331.4,971.7 L330.9,975.7 L330.5,979.7 L330,983.7 L329.6,987.7 L329.1,991.7 L328.6,995.8 L328.2,999.8 L327.7,1003.8 L327.2,1007.8 L326.8,1011.8 L326.3,1015.8 L325.8,1019.8 L325.4,1023.8 L324.9,1027.8 L324.4,1031.9 L324,1035.9 L323.5,1039.9 L323.1,1043.9 L322.6,1047.9 L322.1,1051.9 L321.7,1055.9 L321.2,1059.9 L320.8,1063.9 L320.3,1067.9 L319.9,1071.9 L319.4,1075.9 L319,1079.9 L318.5,1084 L318.1,1088 L317.6,1092 L317.2,1096 L316.8,1100 L316.3,1104 L315.9,1108 L315.5,1112 L315.1,1116 L314.7,1120 L314.2,1124 L313.8,1128 L313.4,1132 L313,1136 L312.6,1140 L312.2,1144 L311.8,1148 L311.5,1152 L311.1,1156 L310.7,1160 L310.3,1164 L310,1168 L1600,1168 L1600,165 Z"/>
<path fill="#00ff80" d="M309,163 L309.3,167 L309.6,171.1 L309.9,175.1 L310.2,179.1 L310.5,183.2 L310.9,187.2 L311.2,191.2 L311.6,195.3 L312,199.3 L312.4,203.3 L312.8,207.3 L313.2,211.4 L313.6,215.4 L314.1,219.4 L314.5,223.4 L315,227.4 L315.5,231.5 L315.9,235.5 L316.4,239.5 L316.9,243.5 L317.4,247.5 L317.9,251.6 L318.4,255.6 L318.9,259.6 L319.5,263.6 L320,267.6 L320.5,271.6 L321.1,275.6 L321.6,279.7 L322.2,283.7 L322.8,287.7 L323.3,291.7 L323.9,295.7 L324.5,299.7 L325.1,303.7 L325.7,307.7 L326.2,311.7 L326.8,315.7 L327.4,319.8 L328,323.8 L328.6,327.8 L329.2,331.8 L329.8,335.8 L330.4,339.8 L331.1,343.8 L331.7,347.8 L332.3,351.8 L332.9,355.8 L333.5,359.8 L334.1,363.8 L334.7,367.9 L335.3,371.9 L335.9,375.9 L336.5,379.9 L337.1,383.9 L337.7,387.9 L338.4,391.9 L339,395.9 L339.6,399.9 L340.1,403.9 L340.7,408 L341.3,412 L341.9,416 L342.5,420 L343.1,424 L343.7,428 L344.2,432 L344.8,436 L345.4,440.1 L345.9,444.1 L346.5,448.1 L347.1,452.1 L347.6,456.1 L348.2,460.1 L348.7,464.2 L349.3,468.2 L349.8,472.2 L350.3,476.2 L350.9,480.2 L351.4,484.3 L351.9,488.3 L352.4,492.3 L352.9,496.3 L353.4,500.3 L353.9,504.4 L354.4,508.4 L354.9,512.4 L355.4,516.4 L355.8,520.5 L356.3,524.5 L356.8,528.5 L357.2,532.6 L357.7,536.6 L358.1,540.6 L358.6,544.6 L359,548.7 L359.4,552.7 L359.8,556.7 L360.2,560.8 L360.6,564.8 L361,568.8 L361.4,572.9 L361.8,576.9 L362.1,580.9 L362.5,585 L362.9,589 L363.2,593.1 L363.5,597.1 L363.9,601.1 L364.2,605.2 L364.5,609.2 L364.8,613.3 L365.1,617.3 L365.4,621.3 L365.7,625.4 L365.9,629.4 L366.2,633.5 L366.4,637.5 L366.7,641.6 L366.9,645.6 L367.1,649.7 L367.3,653.7 L367.5,657.8 L367.7,661.8 L367.9,665.9 L368,669.9 L368.2,674 L368.1,678 L368,682.1 L367.8,686.1 L367.7,690.2 L367.5,694.2 L367.4,698.3 L367.2,702.3 L367,706.4 L366.8,710.4 L366.6,714.5 L366.4,718.5 L366.2,722.6 L366,726.6 L365.7,730.7 L365.5,734.7 L365.2,738.7 L365,742.8 L364.7,746.8 L364.4,750.9 L364.1,754.9 L363.8,758.9 L363.5,763 L363.2,767 L362.9,771.1 L362.6,775.1 L362.2,779.1 L361.9,783.2 L361.5,787.2 L361.1,791.2 L360.8,795.3 L360.4,799.3 L360,803.3 L359.6,807.4 L359.2,811.4 L358.8,815.4 L358.4,819.5 L357.9,823.5 L357.5,827.5 L357,831.5 L356.6,835.6 L356.1,839.6 L355.7,843.6 L355.2,847.6 L354.7,851.7 L354.2,855.7 L353.7,859.7 L353.2,863.7 L352.7,867.7 L352.2,871.7 L351.6,875.8 L351.1,879.8 L350.6,883.8 L350,887.8 L349.5,891.8 L348.9,895.8 L348.3,899.8 L347.8,903.8 L347.2,907.9 L346.6,911.9 L346,915.9 L345.4,919.9 L344.8,923.9 L344.2,927.9 L343.5,931.9 L342.9,935.9 L342.3,939.9 L341.7,943.9 L341,947.9 L340.4,951.9 L339.7,955.9 L339.1,959.9 L338.5,963.9 L337.8,967.9 L337.2,971.9 L336.5,975.9 L335.9,979.8 L335.2,983.8 L334.6,987.8 L333.9,991.8 L333.3,995.8 L332.7,999.8 L332,1003.8 L331.4,1007.8 L330.8,1011.8 L330.1,1015.8 L329.5,1019.8 L328.9,1023.8 L328.3,1027.8 L327.7,1031.8 L327.1,1035.8 L326.5,1039.8 L326,1043.8 L325.4,1047.8 L324.8,1051.8 L324.3,1055.8 L323.7,1059.8 L323.2,1063.8 L322.7,1067.8 L322.2,1071.8 L321.7,1075.8 L321.2,1079.8 L320.7,1083.8 L320.2,1087.8 L319.7,1091.8 L319.3,1095.8 L318.8,1099.8 L318.3,1103.8 L317.9,1107.8 L317.4,1111.8 L316.9,1115.8 L316.4,1119.9 L316,1123.9 L315.5,1127.9 L315,1131.9 L314.5,1135.9 L314,1139.9 L313.4,1143.9 L312.9,1147.9 L312.4,1152 L311.8,1156 L311.2,1160 L310.6,1164 L310,1168 L1600,1168 L1600,163 Z"/>
<path fill="#00ff00" d="M312,163 L312.4,167 L312.8,171 L313.3,175.1 L313.8,179.1 L314.2,183.1 L314.7,187.1 L315.2,191.1 L315.8,195.1 L316.3,199.1 L316.9,203.1 L317.4,207.1 L318,211.1 L318.6,215.1 L319.2,219.1 L319.8,223 L320.4,227 L321.1,231 L321.7,235 L322.4,239 L323,243 L323.7,246.9 L324.4,250.9 L325.1,254.9 L325.8,258.9 L326.5,262.8 L327.2,266.8 L327.9,270.8 L328.7,274.8 L329.4,278.7 L330.1,282.7 L330.9,286.7 L331.6,290.6 L332.4,294.6 L333.1,298.6 L333.9,302.5 L334.7,306.5 L335.4,310.5 L336.2,314.4 L337,318.4 L337.8,322.4 L338.5,326.3 L339.3,330.3 L340.1,334.2 L340.9,338.2 L341.6,342.2 L342.4,346.1 L343.2,350.1 L344,354.1 L344.7,358 L345.5,362 L346.3,366 L347.1,369.9 L347.8,373.9 L348.6,377.9 L349.3,381.8 L350.1,385.8 L350.8,389.8 L351.6,393.7 L352.3,397.7 L353,401.7 L353.8,405.7 L354.5,409.6 L355.2,413.6 L355.9,417.6 L356.6,421.6 L357.3,425.5 L358,429.5 L358.7,433.5 L359.4,437.5 L360.1,441.5 L360.7,445.5 L361.4,449.4 L362.1,453.4 L362.7,457.4 L363.4,461.4 L364,465.4 L364.7,469.4 L365.3,473.4 L365.9,477.3 L366.6,481.3 L367.2,485.3 L367.8,489.3 L368.4,493.3 L369,497.3 L369.6,501.3 L370.2,505.3 L370.7,509.3 L371.3,513.3 L371.9,517.3 L372.4,521.3 L373,525.3 L373.5,529.3 L374.1,533.3 L374.6,537.3 L375.1,541.3 L375.7,545.3 L376.2,549.3 L376.7,553.3 L377.2,557.3 L377.7,561.3 L378.2,565.4 L378.6,569.4 L379.1,573.4 L379.6,577.4 L380,581.4 L380.5,585.4 L380.9,589.4 L381.4,593.5 L381.8,597.5 L382.2,601.5 L382.6,605.5 L383.1,609.5 L383.5,613.6 L383.9,617.6 L384.2,621.6 L384.6,625.6 L385,629.7 L385.4,633.7 L385.7,637.7 L386.1,641.7 L386.4,645.8 L386.7,649.8 L387.1,653.8 L387.4,657.9 L387.7,661.9 L388,665.9 L388.3,670 L388.6,674 L388.4,678 L388.2,682.1 L388,686.1 L387.8,690.2 L387.6,694.2 L387.3,698.3 L387.1,702.3 L386.8,706.4 L386.6,710.4 L386.3,714.4 L386,718.5 L385.8,722.5 L385.5,726.6 L385.2,730.6 L384.9,734.7 L384.5,738.7 L384.2,742.7 L383.9,746.8 L383.6,750.8 L383.2,754.9 L382.8,758.9 L382.5,762.9 L382.1,767 L381.7,771 L381.3,775 L380.9,779.1 L380.5,783.1 L380.1,787.1 L379.7,791.2 L379.2,795.2 L378.8,799.2 L378.3,803.3 L377.8,807.3 L377.4,811.3 L376.9,815.4 L376.4,819.4 L375.9,823.4 L375.3,827.4 L374.8,831.4 L374.3,835.5 L373.7,839.5 L373.2,843.5 L372.6,847.5 L372,851.5 L371.4,855.5 L370.8,859.5 L370.2,863.6 L369.6,867.6 L368.9,871.6 L368.3,875.6 L367.6,879.6 L367,883.6 L366.3,887.6 L365.6,891.6 L364.9,895.6 L364.2,899.6 L363.5,903.5 L362.7,907.5 L362,911.5 L361.2,915.5 L360.4,919.5 L359.7,923.5 L358.9,927.4 L358.1,931.4 L357.2,935.4 L356.4,939.4 L355.6,943.3 L354.8,947.3 L353.9,951.3 L353.1,955.2 L352.2,959.2 L351.3,963.2 L350.5,967.1 L349.6,971.1 L348.8,975 L347.9,979 L347,983 L346.2,986.9 L345.3,990.9 L344.4,994.8 L343.6,998.8 L342.7,1002.8 L341.8,1006.7 L341,1010.7 L340.1,1014.6 L339.3,1018.6 L338.5,1022.5 L337.6,1026.5 L336.8,1030.4 L336,1034.4 L335.2,1038.4 L334.4,1042.3 L333.6,1046.3 L332.9,1050.2 L332.1,1054.2 L331.4,1058.1 L330.6,1062.1 L329.9,1066.1 L329.2,1070 L328.5,1074 L327.9,1078 L327.2,1081.9 L326.6,1085.9 L326.1,1089.9 L325.5,1093.9 L325,1097.9 L324.5,1101.9 L324.1,1105.9 L323.7,1110 L323.3,1114 L322.8,1118 L322.4,1122.1 L322,1126.1 L321.5,1130.1 L321,1134.1 L320.4,1138.2 L319.7,1142.2 L318.9,1146.1 L318.1,1150.1 L317.1,1154.1 L316,1158 L1600,1158 L1600,163 Z"/>
<path fill="#ffff00" d="M315.5,163 L316.1,167 L316.8,171 L317.5,175 L318.2,179 L318.9,183 L319.6,187 L320.4,190.9 L321.2,194.9 L322,198.9 L322.8,202.8 L323.6,206.8 L324.4,210.8 L325.3,214.7 L326.1,218.7 L327,222.6 L327.9,226.6 L328.8,230.5 L329.7,234.5 L330.7,238.4 L331.6,242.3 L332.5,246.3 L333.5,250.2 L334.5,254.1 L335.4,258.1 L336.4,262 L337.4,265.9 L338.4,269.8 L339.5,273.8 L340.5,277.7 L341.5,281.6 L342.5,285.5 L343.6,289.4 L344.6,293.4 L345.7,297.3 L346.7,301.2 L347.8,305.1 L348.8,309 L349.9,312.9 L350.9,316.8 L352,320.7 L353.1,324.7 L354.2,328.6 L355.2,332.5 L356.3,336.4 L357.4,340.3 L358.4,344.2 L359.5,348.1 L360.6,352 L361.6,355.9 L362.7,359.9 L363.7,363.8 L364.8,367.7 L365.8,371.6 L366.9,375.5 L367.9,379.4 L369,383.4 L370,387.3 L371,391.2 L372,395.1 L373,399.1 L374,403 L375,406.9 L376,410.8 L377,414.8 L378,418.7 L378.9,422.7 L379.9,426.6 L380.8,430.5 L381.8,434.5 L382.7,438.4 L383.6,442.4 L384.6,446.3 L385.5,450.3 L386.4,454.2 L387.3,458.2 L388.2,462.1 L389.1,466.1 L389.9,470 L390.8,474 L391.7,477.9 L392.5,481.9 L393.4,485.9 L394.2,489.8 L395,493.8 L395.9,497.8 L396.7,501.7 L397.5,505.7 L398.3,509.7 L399.1,513.7 L399.8,517.6 L400.6,521.6 L401.4,525.6 L402.1,529.6 L402.9,533.6 L403.6,537.5 L404.3,541.5 L405.1,545.5 L405.8,549.5 L406.5,553.5 L407.2,557.5 L407.9,561.5 L408.5,565.5 L409.2,569.5 L409.9,573.5 L410.5,577.5 L411.1,581.5 L411.8,585.5 L412.4,589.5 L413,593.5 L413.6,597.5 L414.2,601.5 L414.8,605.5 L415.4,609.5 L415.9,613.6 L416.5,617.6 L417,621.6 L417.6,625.6 L418.1,629.6 L418.6,633.7 L419.1,637.7 L419.6,641.7 L420.1,645.8 L420.6,649.8 L421,653.8 L421.5,657.8 L421.9,661.9 L422.4,665.9 L422.8,670 L423.2,674 L423,678.1 L422.8,682.2 L422.5,686.2 L422.3,690.3 L422,694.4 L421.7,698.4 L421.4,702.5 L421.1,706.6 L420.7,710.6 L420.3,714.7 L420,718.7 L419.6,722.8 L419.1,726.8 L418.7,730.9 L418.3,734.9 L417.8,738.9 L417.3,743 L416.8,747 L416.3,751 L415.8,755.1 L415.2,759.1 L414.7,763.1 L414.1,767.1 L413.5,771.1 L412.9,775.2 L412.3,779.2 L411.7,783.2 L411,787.2 L410.4,791.2 L409.7,795.2 L409,799.2 L408.3,803.2 L407.6,807.2 L406.9,811.2 L406.1,815.1 L405.4,819.1 L404.6,823.1 L403.9,827.1 L403.1,831.1 L402.3,835.1 L401.5,839 L400.7,843 L399.9,847 L399,850.9 L398.2,854.9 L397.3,858.9 L396.4,862.8 L395.6,866.8 L394.7,870.8 L393.8,874.7 L392.9,878.7 L392,882.6 L391.1,886.6 L390.1,890.5 L389.2,894.5 L388.3,898.4 L387.3,902.4 L386.3,906.3 L385.4,910.3 L384.4,914.2 L383.4,918.1 L382.4,922.1 L381.4,926 L380.4,930 L379.4,933.9 L378.4,937.8 L377.4,941.8 L376.4,945.7 L375.4,949.6 L374.3,953.5 L373.3,957.5 L372.2,961.4 L371.2,965.3 L370.2,969.3 L369.1,973.2 L368,977.1 L367,981 L365.9,985 L364.9,988.9 L363.8,992.8 L362.7,996.7 L361.7,1000.6 L360.6,1004.6 L359.5,1008.5 L358.5,1012.4 L357.4,1016.3 L356.3,1020.3 L355.3,1024.2 L354.2,1028.1 L353.2,1032 L352.1,1035.9 L351,1039.9 L350,1043.8 L348.9,1047.7 L347.8,1051.6 L346.8,1055.6 L345.7,1059.5 L344.7,1063.4 L343.7,1067.3 L342.6,1071.3 L341.6,1075.2 L340.5,1079.1 L339.5,1083 L338.5,1087 L337.5,1090.9 L336.5,1094.8 L335.4,1098.8 L334.4,1102.7 L333.5,1106.6 L332.5,1110.6 L331.5,1114.5 L330.5,1118.4 L329.5,1122.4 L328.6,1126.3 L327.6,1130.3 L326.7,1134.2 L325.7,1138.1 L324.8,1142.1 L323.9,1146 L323,1150 L1600,1150 L1600,163 Z"/>
<path fill="#ff8000" d="M325,163 L326.1,166.9 L327.2,170.8 L328.3,174.6 L329.4,178.5 L330.6,182.4 L331.7,186.2 L332.9,190.1 L334.1,193.9 L335.4,197.7 L336.6,201.6 L337.8,205.4 L339.1,209.2 L340.4,213 L341.7,216.8 L343,220.6 L344.3,224.4 L345.7,228.2 L347,232 L348.4,235.8 L349.8,239.6 L351.2,243.4 L352.6,247.2 L354,250.9 L355.4,254.7 L356.8,258.5 L358.3,262.2 L359.7,266 L361.2,269.7 L362.7,273.5 L364.1,277.2 L365.6,281 L367.1,284.7 L368.6,288.5 L370.1,292.2 L371.6,295.9 L373.1,299.7 L374.7,303.4 L376.2,307.1 L377.7,310.9 L379.2,314.6 L380.8,318.3 L382.3,322.1 L383.9,325.8 L385.4,329.5 L387,333.2 L388.5,337 L390.1,340.7 L391.6,344.4 L393.2,348.1 L394.7,351.9 L396.3,355.6 L397.8,359.3 L399.4,363 L400.9,366.8 L402.4,370.5 L404,374.2 L405.5,377.9 L407.1,381.7 L408.6,385.4 L410.1,389.1 L411.6,392.9 L413.1,396.6 L414.7,400.3 L416.2,404.1 L417.7,407.8 L419.2,411.6 L420.6,415.3 L422.1,419.1 L423.6,422.8 L425,426.6 L426.5,430.3 L427.9,434.1 L429.4,437.9 L430.8,441.6 L432.2,445.4 L433.6,449.2 L435,452.9 L436.4,456.7 L437.7,460.5 L439.1,464.3 L440.4,468.1 L441.8,471.9 L443.1,475.7 L444.4,479.5 L445.7,483.3 L447,487.1 L448.3,490.9 L449.6,494.7 L450.8,498.6 L452.1,502.4 L453.3,506.2 L454.5,510 L455.7,513.9 L456.9,517.7 L458.1,521.6 L459.3,525.4 L460.5,529.3 L461.7,533.1 L462.8,537 L464,540.8 L465.1,544.7 L466.2,548.6 L467.3,552.4 L468.4,556.3 L469.5,560.2 L470.6,564.1 L471.7,567.9 L472.7,571.8 L473.8,575.7 L474.8,579.6 L475.8,583.5 L476.8,587.4 L477.8,591.3 L478.8,595.2 L479.8,599.1 L480.8,603 L481.8,607 L482.7,610.9 L483.7,614.8 L484.6,618.7 L485.5,622.7 L486.4,626.6 L487.3,630.5 L488.2,634.5 L489.1,638.4 L490,642.3 L490.8,646.3 L491.7,650.2 L492.5,654.2 L493.4,658.2 L494.2,662.1 L495,666.1 L495.8,670 L496.6,674 L496.6,678.1 L496.6,682.3 L496.6,686.4 L496.5,690.5 L496.4,694.6 L496.2,698.7 L496,702.7 L495.8,706.8 L495.5,710.9 L495.2,714.9 L494.9,719 L494.5,723 L494.1,727 L493.6,731.1 L493.1,735.1 L492.6,739.1 L492.1,743.1 L491.5,747.1 L490.9,751 L490.2,755 L489.5,759 L488.8,762.9 L488.1,766.9 L487.3,770.8 L486.5,774.8 L485.7,778.7 L484.9,782.6 L484,786.5 L483.1,790.4 L482.2,794.3 L481.2,798.2 L480.2,802.1 L479.2,806 L478.2,809.9 L477.1,813.8 L476,817.6 L474.9,821.5 L473.8,825.3 L472.7,829.2 L471.5,833 L470.3,836.9 L469.1,840.7 L467.9,844.5 L466.6,848.4 L465.4,852.2 L464.1,856 L462.8,859.8 L461.4,863.6 L460.1,867.4 L458.7,871.2 L457.4,875 L456,878.8 L454.6,882.6 L453.1,886.4 L451.7,890.1 L450.3,893.9 L448.8,897.7 L447.3,901.4 L445.9,905.2 L444.4,909 L442.8,912.7 L441.3,916.5 L439.8,920.2 L438.3,924 L436.7,927.7 L435.2,931.5 L433.6,935.2 L432,938.9 L430.4,942.7 L428.9,946.4 L427.3,950.2 L425.7,953.9 L424.1,957.6 L422.4,961.3 L420.8,965.1 L419.2,968.8 L417.6,972.5 L416,976.2 L414.3,980 L412.7,983.7 L411.1,987.4 L409.5,991.1 L407.8,994.8 L406.2,998.6 L404.6,1002.3 L402.9,1006 L401.3,1009.7 L399.7,1013.4 L398.1,1017.2 L396.4,1020.9 L394.8,1024.6 L393.2,1028.3 L391.6,1032 L390,1035.8 L388.4,1039.5 L386.8,1043.2 L385.2,1046.9 L383.7,1050.6 L382.1,1054.4 L380.5,1058.1 L379,1061.8 L377.4,1065.6 L375.9,1069.3 L374.4,1073 L372.8,1076.8 L371.3,1080.5 L369.8,1084.2 L368.4,1088 L366.9,1091.7 L365.4,1095.5 L364,1099.2 L362.6,1103 L361.2,1106.7 L359.8,1110.5 L358.4,1114.2 L357,1118 L1600,1118 L1600,163 Z"/>
<path fill="#ff0000" d="M361,166 L362.3,169.8 L363.7,173.5 L365.2,177.3 L366.7,180.9 L368.4,184.5 L370.1,188.1 L371.9,191.6 L373.8,195.1 L375.7,198.6 L377.7,202 L379.8,205.4 L381.9,208.8 L384.1,212.2 L386.3,215.5 L388.6,218.7 L390.9,222 L393.2,225.2 L395.7,228.4 L398.1,231.6 L400.6,234.8 L403.1,237.9 L405.6,241.1 L408.2,244.2 L410.8,247.3 L413.4,250.4 L416,253.5 L418.6,256.5 L421.3,259.6 L423.9,262.7 L426.6,265.7 L429.3,268.7 L431.9,271.8 L434.6,274.8 L437.3,277.8 L440,280.9 L442.6,283.9 L445.3,286.9 L448,289.9 L450.7,292.9 L453.4,295.9 L456.1,298.9 L458.9,301.9 L461.6,304.9 L464.3,307.9 L467,310.9 L469.7,313.9 L472.4,316.9 L475.2,319.8 L477.9,322.8 L480.6,325.8 L483.3,328.8 L486.1,331.7 L488.8,334.7 L491.5,337.7 L494.2,340.7 L497,343.6 L499.7,346.6 L502.4,349.6 L505.2,352.5 L507.9,355.5 L510.6,358.5 L513.3,361.5 L516.1,364.4 L518.8,367.4 L521.5,370.4 L524.2,373.4 L526.9,376.3 L529.6,379.3 L532.3,382.3 L535.1,385.3 L537.8,388.3 L540.5,391.3 L543.2,394.2 L545.9,397.2 L548.6,400.2 L551.3,403.2 L554,406.2 L556.7,409.2 L559.3,412.2 L562,415.2 L564.7,418.2 L567.4,421.2 L570.1,424.2 L572.8,427.2 L575.5,430.2 L578.1,433.2 L580.8,436.2 L583.5,439.3 L586.2,442.3 L588.8,445.3 L591.5,448.3 L594.2,451.3 L596.8,454.3 L599.5,457.4 L602.2,460.4 L604.8,463.4 L607.5,466.4 L610.1,469.5 L612.8,472.5 L615.4,475.5 L618.1,478.6 L620.7,481.6 L623.4,484.6 L626,487.7 L628.7,490.7 L631.3,493.7 L634,496.8 L636.6,499.8 L639.2,502.9 L641.9,505.9 L644.5,509 L647.1,512 L649.8,515.1 L652.4,518.1 L655,521.2 L657.6,524.2 L660.3,527.3 L662.9,530.3 L665.5,533.4 L668.1,536.5 L670.8,539.5 L673.4,542.6 L676,545.7 L678.6,548.7 L681.2,551.8 L683.8,554.9 L686.4,558 L689,561 L691.7,564.1 L694.3,567.2 L696.9,570.2 L699.5,573.3 L702.1,576.4 L704.7,579.5 L707.4,582.5 L710,585.6 L712.6,588.6 L715.3,591.7 L717.9,594.7 L720.5,597.8 L723.2,600.8 L725.9,603.8 L728.5,606.8 L731.2,609.8 L733.9,612.8 L736.6,615.8 L739.4,618.8 L742.1,621.7 L744.8,624.7 L747.6,627.6 L750.4,630.6 L753.1,633.5 L755.9,636.4 L758.8,639.3 L761.6,642.1 L764.4,645 L767.3,647.8 L770.2,650.6 L773.1,653.4 L776,656.2 L779,659 L781.9,661.7 L784.9,664.5 L787.9,667.2 L790.9,669.8 L794,672.5 L795.7,676.3 L797.4,680 L799.2,683.7 L801.1,687.4 L803,691.1 L804.9,694.7 L806.9,698.3 L809,701.9 L811.1,705.4 L813.3,708.9 L815.6,712.3 L817.9,715.7 L820.2,719.1 L822.6,722.4 L825.1,725.7 L827.6,728.9 L830.2,732 L832.8,735.1 L835.5,738.2 L838.3,741.2 L841.1,744.1 L843.9,746.9 L846.8,749.8 L849.8,752.5 L852.8,755.2 L855.8,757.7 L858.9,760.3 L862.1,762.7 L865.3,765.1 L868.6,767.4 L871.9,769.6 L875.2,771.8 L878.7,773.8 L882.1,775.8 L885.6,777.7 L889.2,779.5 L892.8,781.2 L896.5,782.8 L900.2,784.4 L903.9,785.9 L907.7,787.3 L911.5,788.6 L915.3,789.8 L919.2,791 L923.1,792.1 L927,793.1 L931,794.1 L935,795 L939,795.8 L943,796.6 L947.1,797.2 L951.1,797.9 L955.2,798.4 L959.3,798.9 L963.4,799.3 L967.5,799.7 L971.6,800 L975.8,800.3 L979.9,800.5 L984,800.6 L988.2,800.7 L992.3,800.8 L996.4,800.8 L1000.5,800.7 L1004.7,800.6 L1008.8,800.4 L1012.9,800.2 L1016.9,800 L1021,799.7 L1025.1,799.3 L1029.1,798.9 L1033.1,798.5 L1037.1,798 L1041.1,797.5 L1045,797 L1600,797 L1600,166 Z"/>
<g fill="none" stroke="#000" stroke-width="3.5" stroke-linejoin="round">
<path d="M299,165 L299.3,169 L299.6,173 L300,177 L300.3,181 L300.7,185 L301,189 L301.4,193.1 L301.8,197.1 L302.2,201.1 L302.6,205.1 L303,209.1 L303.4,213.1 L303.8,217 L304.3,221 L304.7,225 L305.1,229 L305.5,233 L306,237 L306.4,241 L306.9,245 L307.3,249 L307.7,253 L308.2,257 L308.6,261 L309,265 L309.5,269 L309.9,273 L310.3,277 L310.7,281 L311.2,285 L311.6,289 L312,293 L312.4,296.9 L312.8,300.9 L313.2,304.9 L313.6,308.9 L313.9,312.9 L314.3,316.9 L314.7,320.9 L315.1,324.9 L315.4,328.9 L315.8,333 L316.1,337 L316.4,341 L316.8,345 L317.1,349 L317.4,353 L317.8,357 L318.1,361 L318.4,365 L318.7,369 L319,373 L319.3,377 L319.6,381.1 L319.9,385.1 L320.2,389.1 L320.5,393.1 L320.8,397.1 L321.1,401.1 L321.4,405.1 L321.7,409.1 L322,413.2 L322.3,417.2 L322.7,421.2 L323,425.2 L323.3,429.2 L323.6,433.2 L323.9,437.2 L324.3,441.3 L324.6,445.3 L325,449.3 L325.3,453.3 L325.6,457.3 L326,461.3 L326.3,465.4 L326.7,469.4 L327,473.4 L327.4,477.4 L327.7,481.4 L328.1,485.4 L328.4,489.5 L328.8,493.5 L329.1,497.5 L329.5,501.5 L329.8,505.5 L330.1,509.5 L330.5,513.6 L330.8,517.6 L331.1,521.6 L331.5,525.6 L331.8,529.6 L332.1,533.7 L332.4,537.7 L332.7,541.7 L333,545.7 L333.3,549.7 L333.6,553.7 L333.9,557.8 L334.1,561.8 L334.4,565.8 L334.7,569.8 L334.9,573.8 L335.2,577.9 L335.4,581.9 L335.6,585.9 L335.8,589.9 L336,593.9 L336.2,598 L336.4,602 L336.6,606 L336.7,610 L336.9,614 L337,618.1 L337.2,622.1 L337.3,626.1 L337.4,630.1 L337.5,634.1 L337.6,638.2 L337.7,642.2 L337.8,646.2 L337.9,650.2 L337.9,654.2 L338,658.3 L338.1,662.3 L338.1,666.3 L338.1,670.3 L338.2,674.4 L338.2,678.4 L338.2,682.4 L338.2,686.4 L338.2,690.4 L338.2,694.5 L338.1,698.5 L338.1,702.5 L338.1,706.5 L338,710.5 L338,714.6 L337.9,718.6 L337.9,722.6 L337.8,726.6 L337.7,730.6 L337.6,734.7 L337.5,738.7 L337.4,742.7 L337.3,746.7 L337.2,750.8 L337.1,754.8 L336.9,758.8 L336.8,762.8 L336.7,766.8 L336.5,770.9 L336.4,774.9 L336.2,778.9 L336,782.9 L335.8,786.9 L335.7,791 L335.5,795 L335.3,799 L335.1,803 L334.9,807 L334.7,811.1 L334.5,815.1 L334.2,819.1 L334,823.1 L333.8,827.1 L333.6,831.2 L333.3,835.2 L333.1,839.2 L332.8,843.2 L332.6,847.2 L332.3,851.3 L332,855.3 L331.8,859.3 L331.5,863.3 L331.2,867.3 L330.9,871.3 L330.6,875.4 L330.3,879.4 L330,883.4 L329.7,887.4 L329.4,891.4 L329.1,895.5 L328.8,899.5 L328.5,903.5 L328.1,907.5 L327.8,911.5 L327.5,915.5 L327.1,919.6 L326.8,923.6 L326.5,927.6 L326.1,931.6 L325.8,935.6 L325.4,939.6 L325.1,943.6 L324.7,947.7 L324.3,951.7 L324,955.7 L323.6,959.7 L323.2,963.7 L322.9,967.7 L322.5,971.7 L322.1,975.8 L321.7,979.8 L321.3,983.8 L320.9,987.8 L320.5,991.8 L320.2,995.8 L319.8,999.8 L319.4,1003.8 L319,1007.8 L318.6,1011.9 L318.2,1015.9 L317.7,1019.9 L317.3,1023.9 L316.9,1027.9 L316.5,1031.9 L316.1,1035.9 L315.7,1039.9 L315.3,1043.9 L314.9,1047.9 L314.4,1051.9 L314,1055.9 L313.6,1060 L313.2,1064 L312.7,1068 L312.3,1072 L311.9,1076 L311.5,1080 L311,1084 L310.6,1088 L310.2,1092 L309.7,1096 L309.3,1100 L308.9,1104 L308.5,1108 L308,1112 L307.6,1116 L307.2,1120 L306.7,1124 L306.3,1128 L305.9,1132 L305.4,1136 L305,1140 L304.6,1144 L304.1,1148 L303.7,1152 L303.3,1156 L302.8,1160 L302.4,1164 L302,1168"/>
<path d="M302,165 L302.3,169 L302.6,173 L303,177 L303.3,181 L303.7,185 L304,189 L304.4,193 L304.8,197 L305.1,201 L305.5,205 L305.9,209 L306.3,213 L306.6,217 L307,221 L307.4,225 L307.8,229 L308.2,233 L308.6,237 L309,241 L309.4,245 L309.9,249 L310.3,253 L310.7,257 L311.1,261 L311.5,265 L312,269 L312.4,273 L312.8,277 L313.3,281 L313.7,285 L314.1,289 L314.6,293 L315,297 L315.4,301 L315.9,305 L316.3,309 L316.8,313 L317.2,317 L317.7,321.1 L318.1,325.1 L318.5,329.1 L319,333.1 L319.4,337.1 L319.9,341.1 L320.3,345.1 L320.8,349.1 L321.2,353.1 L321.7,357.1 L322.1,361.1 L322.5,365.1 L323,369.1 L323.4,373.1 L323.9,377.2 L324.3,381.2 L324.7,385.2 L325.2,389.2 L325.6,393.2 L326,397.2 L326.5,401.2 L326.9,405.2 L327.3,409.2 L327.8,413.2 L328.2,417.3 L328.6,421.3 L329,425.3 L329.4,429.3 L329.8,433.3 L330.2,437.3 L330.6,441.3 L331,445.3 L331.4,449.4 L331.8,453.4 L332.2,457.4 L332.6,461.4 L333,465.4 L333.4,469.4 L333.7,473.4 L334.1,477.4 L334.5,481.5 L334.8,485.5 L335.2,489.5 L335.5,493.5 L335.9,497.5 L336.2,501.5 L336.5,505.5 L336.9,509.6 L337.2,513.6 L337.5,517.6 L337.8,521.6 L338.1,525.6 L338.4,529.6 L338.7,533.6 L339,537.7 L339.3,541.7 L339.5,545.7 L339.8,549.7 L340,553.7 L340.3,557.7 L340.5,561.8 L340.8,565.8 L341,569.8 L341.2,573.8 L341.4,577.8 L341.6,581.8 L341.8,585.9 L342,589.9 L342.2,593.9 L342.4,597.9 L342.6,601.9 L342.7,606 L342.9,610 L343,614 L343.1,618 L343.2,622 L343.4,626 L343.5,630.1 L343.6,634.1 L343.6,638.1 L343.7,642.1 L343.8,646.1 L343.8,650.2 L343.9,654.2 L343.9,658.2 L343.9,662.2 L344,666.2 L344,670.3 L344,674.3 L344,678.3 L343.9,682.3 L343.9,686.3 L343.9,690.4 L343.8,694.4 L343.8,698.4 L343.7,702.4 L343.7,706.4 L343.6,710.5 L343.5,714.5 L343.4,718.5 L343.3,722.5 L343.2,726.6 L343.1,730.6 L343,734.6 L342.9,738.6 L342.7,742.6 L342.6,746.7 L342.5,750.7 L342.3,754.7 L342.1,758.7 L342,762.7 L341.8,766.8 L341.6,770.8 L341.4,774.8 L341.2,778.8 L341,782.8 L340.8,786.9 L340.6,790.9 L340.4,794.9 L340.2,798.9 L340,802.9 L339.7,807 L339.5,811 L339.2,815 L339,819 L338.7,823 L338.5,827.1 L338.2,831.1 L337.9,835.1 L337.6,839.1 L337.4,843.1 L337.1,847.2 L336.8,851.2 L336.5,855.2 L336.2,859.2 L335.9,863.2 L335.6,867.3 L335.2,871.3 L334.9,875.3 L334.6,879.3 L334.3,883.3 L333.9,887.4 L333.6,891.4 L333.3,895.4 L332.9,899.4 L332.6,903.4 L332.2,907.4 L331.9,911.5 L331.5,915.5 L331.2,919.5 L330.8,923.5 L330.4,927.5 L330.1,931.5 L329.7,935.6 L329.3,939.6 L328.9,943.6 L328.5,947.6 L328.2,951.6 L327.8,955.6 L327.4,959.6 L327,963.7 L326.6,967.7 L326.2,971.7 L325.8,975.7 L325.4,979.7 L325,983.7 L324.6,987.7 L324.2,991.8 L323.8,995.8 L323.4,999.8 L323,1003.8 L322.6,1007.8 L322.1,1011.8 L321.7,1015.8 L321.3,1019.8 L320.9,1023.8 L320.5,1027.9 L320.1,1031.9 L319.7,1035.9 L319.2,1039.9 L318.8,1043.9 L318.4,1047.9 L318,1051.9 L317.5,1055.9 L317.1,1059.9 L316.7,1063.9 L316.3,1067.9 L315.9,1072 L315.4,1076 L315,1080 L314.6,1084 L314.2,1088 L313.8,1092 L313.3,1096 L312.9,1100 L312.5,1104 L312.1,1108 L311.7,1112 L311.3,1116 L310.8,1120 L310.4,1124 L310,1128 L309.6,1132 L309.2,1136 L308.8,1140 L308.4,1144 L308,1148 L307.6,1152 L307.2,1156 L306.8,1160 L306.4,1164 L306,1168"/>
<path d="M307.5,165 L307.7,169 L307.9,173 L308.1,177 L308.4,181 L308.6,185 L308.9,189.1 L309.2,193.1 L309.4,197.1 L309.7,201.1 L310,205.1 L310.3,209.1 L310.6,213.1 L311,217.1 L311.3,221.1 L311.6,225.1 L312,229.1 L312.3,233.1 L312.7,237.1 L313.1,241.2 L313.5,245.2 L313.9,249.2 L314.2,253.2 L314.6,257.2 L315.1,261.2 L315.5,265.2 L315.9,269.2 L316.3,273.2 L316.7,277.2 L317.2,281.2 L317.6,285.3 L318.1,289.3 L318.5,293.3 L319,297.3 L319.4,301.3 L319.9,305.3 L320.4,309.3 L320.8,313.3 L321.3,317.3 L321.8,321.3 L322.3,325.3 L322.7,329.3 L323.2,333.4 L323.7,337.4 L324.2,341.4 L324.7,345.4 L325.2,349.4 L325.7,353.4 L326.2,357.4 L326.7,361.4 L327.2,365.4 L327.7,369.4 L328.2,373.5 L328.7,377.5 L329.2,381.5 L329.7,385.5 L330.2,389.5 L330.7,393.5 L331.2,397.5 L331.7,401.5 L332.2,405.5 L332.7,409.5 L333.2,413.6 L333.7,417.6 L334.2,421.6 L334.7,425.6 L335.2,429.6 L335.7,433.6 L336.2,437.6 L336.7,441.6 L337.1,445.6 L337.6,449.6 L338.1,453.7 L338.6,457.7 L339,461.7 L339.5,465.7 L340,469.7 L340.4,473.7 L340.9,477.7 L341.3,481.7 L341.8,485.7 L342.2,489.8 L342.6,493.8 L343,497.8 L343.5,501.8 L343.9,505.8 L344.3,509.8 L344.7,513.8 L345.1,517.8 L345.5,521.9 L345.8,525.9 L346.2,529.9 L346.6,533.9 L346.9,537.9 L347.3,541.9 L347.6,545.9 L348,550 L348.3,554 L348.6,558 L348.9,562 L349.2,566 L349.5,570 L349.8,574 L350.1,578 L350.3,582.1 L350.6,586.1 L350.8,590.1 L351,594.1 L351.3,598.1 L351.5,602.1 L351.7,606.2 L351.8,610.2 L352,614.2 L352.2,618.2 L352.3,622.2 L352.5,626.2 L352.6,630.2 L352.7,634.3 L352.8,638.3 L352.9,642.3 L353,646.3 L353.1,650.3 L353.1,654.3 L353.2,658.4 L353.2,662.4 L353.2,666.4 L353.2,670.4 L353.2,674.4 L353.2,678.4 L353.2,682.5 L353.1,686.5 L353.1,690.5 L353,694.5 L353,698.5 L352.9,702.6 L352.8,706.6 L352.7,710.6 L352.6,714.6 L352.5,718.6 L352.4,722.6 L352.2,726.7 L352.1,730.7 L351.9,734.7 L351.8,738.7 L351.6,742.7 L351.4,746.7 L351.2,750.8 L351,754.8 L350.8,758.8 L350.6,762.8 L350.4,766.8 L350.1,770.9 L349.9,774.9 L349.7,778.9 L349.4,782.9 L349.1,786.9 L348.9,790.9 L348.6,795 L348.3,799 L348,803 L347.7,807 L347.4,811 L347.1,815.1 L346.8,819.1 L346.5,823.1 L346.2,827.1 L345.8,831.1 L345.5,835.1 L345.1,839.2 L344.8,843.2 L344.4,847.2 L344.1,851.2 L343.7,855.2 L343.3,859.3 L343,863.3 L342.6,867.3 L342.2,871.3 L341.8,875.3 L341.4,879.3 L341,883.4 L340.6,887.4 L340.2,891.4 L339.8,895.4 L339.4,899.4 L338.9,903.4 L338.5,907.5 L338.1,911.5 L337.7,915.5 L337.2,919.5 L336.8,923.5 L336.4,927.5 L335.9,931.5 L335.5,935.6 L335,939.6 L334.6,943.6 L334.1,947.6 L333.7,951.6 L333.2,955.6 L332.8,959.6 L332.3,963.7 L331.9,967.7 L331.4,971.7 L330.9,975.7 L330.5,979.7 L330,983.7 L329.6,987.7 L329.1,991.7 L328.6,995.8 L328.2,999.8 L327.7,1003.8 L327.2,1007.8 L326.8,1011.8 L326.3,1015.8 L325.8,1019.8 L325.4,1023.8 L324.9,1027.8 L324.4,1031.9 L324,1035.9 L323.5,1039.9 L323.1,1043.9 L322.6,1047.9 L322.1,1051.9 L321.7,1055.9 L321.2,1059.9 L320.8,1063.9 L320.3,1067.9 L319.9,1071.9 L319.4,1075.9 L319,1079.9 L318.5,1084 L318.1,1088 L317.6,1092 L317.2,1096 L316.8,1100 L316.3,1104 L315.9,1108 L315.5,1112 L315.1,1116 L314.7,1120 L314.2,1124 L313.8,1128 L313.4,1132 L313,1136 L312.6,1140 L312.2,1144 L311.8,1148 L311.5,1152 L311.1,1156 L310.7,1160 L310.3,1164 L310,1168"/>
<path d="M309,163 L309.3,167 L309.6,171.1 L309.9,175.1 L310.2,179.1 L310.5,183.2 L310.9,187.2 L311.2,191.2 L311.6,195.3 L312,199.3 L312.4,203.3 L312.8,207.3 L313.2,211.4 L313.6,215.4 L314.1,219.4 L314.5,223.4 L315,227.4 L315.5,231.5 L315.9,235.5 L316.4,239.5 L316.9,243.5 L317.4,247.5 L317.9,251.6 L318.4,255.6 L318.9,259.6 L319.5,263.6 L320,267.6 L320.5,271.6 L321.1,275.6 L321.6,279.7 L322.2,283.7 L322.8,287.7 L323.3,291.7 L323.9,295.7 L324.5,299.7 L325.1,303.7 L325.7,307.7 L326.2,311.7 L326.8,315.7 L327.4,319.8 L328,323.8 L328.6,327.8 L329.2,331.8 L329.8,335.8 L330.4,339.8 L331.1,343.8 L331.7,347.8 L332.3,351.8 L332.9,355.8 L333.5,359.8 L334.1,363.8 L334.7,367.9 L335.3,371.9 L335.9,375.9 L336.5,379.9 L337.1,383.9 L337.7,387.9 L338.4,391.9 L339,395.9 L339.6,399.9 L340.1,403.9 L340.7,408 L341.3,412 L341.9,416 L342.5,420 L343.1,424 L343.7,428 L344.2,432 L344.8,436 L345.4,440.1 L345.9,444.1 L346.5,448.1 L347.1,452.1 L347.6,456.1 L348.2,460.1 L348.7,464.2 L349.3,468.2 L349.8,472.2 L350.3,476.2 L350.9,480.2 L351.4,484.3 L351.9,488.3 L352.4,492.3 L352.9,496.3 L353.4,500.3 L353.9,504.4 L354.4,508.4 L354.9,512.4 L355.4,516.4 L355.8,520.5 L356.3,524.5 L356.8,528.5 L357.2,532.6 L357.7,536.6 L358.1,540.6 L358.6,544.6 L359,548.7 L359.4,552.7 L359.8,556.7 L360.2,560.8 L360.6,564.8 L361,568.8 L361.4,572.9 L361.8,576.9 L362.1,580.9 L362.5,585 L362.9,589 L363.2,593.1 L363.5,597.1 L363.9,601.1 L364.2,605.2 L364.5,609.2 L364.8,613.3 L365.1,617.3 L365.4,621.3 L365.7,625.4 L365.9,629.4 L366.2,633.5 L366.4,637.5 L366.7,641.6 L366.9,645.6 L367.1,649.7 L367.3,653.7 L367.5,657.8 L367.7,661.8 L367.9,665.9 L368,669.9 L368.2,674 L368.1,678 L368,682.1 L367.8,686.1 L367.7,690.2 L367.5,694.2 L367.4,698.3 L367.2,702.3 L367,706.4 L366.8,710.4 L366.6,714.5 L366.4,718.5 L366.2,722.6 L366,726.6 L365.7,730.7 L365.5,734.7 L365.2,738.7 L365,742.8 L364.7,746.8 L364.4,750.9 L364.1,754.9 L363.8,758.9 L363.5,763 L363.2,767 L362.9,771.1 L362.6,775.1 L362.2,779.1 L361.9,783.2 L361.5,787.2 L361.1,791.2 L360.8,795.3 L360.4,799.3 L360,803.3 L359.6,807.4 L359.2,811.4 L358.8,815.4 L358.4,819.5 L357.9,823.5 L357.5,827.5 L357,831.5 L356.6,835.6 L356.1,839.6 L355.7,843.6 L355.2,847.6 L354.7,851.7 L354.2,855.7 L353.7,859.7 L353.2,863.7 L352.7,867.7 L352.2,871.7 L351.6,875.8 L351.1,879.8 L350.6,883.8 L350,887.8 L349.5,891.8 L348.9,895.8 L348.3,899.8 L347.8,903.8 L347.2,907.9 L346.6,911.9 L346,915.9 L345.4,919.9 L344.8,923.9 L344.2,927.9 L343.5,931.9 L342.9,935.9 L342.3,939.9 L341.7,943.9 L341,947.9 L340.4,951.9 L339.7,955.9 L339.1,959.9 L338.5,963.9 L337.8,967.9 L337.2,971.9 L336.5,975.9 L335.9,979.8 L335.2,983.8 L334.6,987.8 L333.9,991.8 L333.3,995.8 L332.7,999.8 L332,1003.8 L331.4,1007.8 L330.8,1011.8 L330.1,1015.8 L329.5,1019.8 L328.9,1023.8 L328.3,1027.8 L327.7,1031.8 L327.1,1035.8 L326.5,1039.8 L326,1043.8 L325.4,1047.8 L324.8,1051.8 L324.3,1055.8 L323.7,1059.8 L323.2,1063.8 L322.7,1067.8 L322.2,1071.8 L321.7,1075.8 L321.2,1079.8 L320.7,1083.8 L320.2,1087.8 L319.7,1091.8 L319.3,1095.8 L318.8,1099.8 L318.3,1103.8 L317.9,1107.8 L317.4,1111.8 L316.9,1115.8 L316.4,1119.9 L316,1123.9 L315.5,1127.9 L315,1131.9 L314.5,1135.9 L314,1139.9 L313.4,1143.9 L312.9,1147.9 L312.4,1152 L311.8,1156 L311.2,1160 L310.6,1164 L310,1168"/>
<path d="M312,163 L312.4,167 L312.8,171 L313.3,175.1 L313.8,179.1 L314.2,183.1 L314.7,187.1 L315.2,191.1 L315.8,195.1 L316.3,199.1 L316.9,203.1 L317.4,207.1 L318,211.1 L318.6,215.1 L319.2,219.1 L319.8,223 L320.4,227 L321.1,231 L321.7,235 L322.4,239 L323,243 L323.7,246.9 L324.4,250.9 L325.1,254.9 L325.8,258.9 L326.5,262.8 L327.2,266.8 L327.9,270.8 L328.7,274.8 L329.4,278.7 L330.1,282.7 L330.9,286.7 L331.6,290.6 L332.4,294.6 L333.1,298.6 L333.9,302.5 L334.7,306.5 L335.4,310.5 L336.2,314.4 L337,318.4 L337.8,322.4 L338.5,326.3 L339.3,330.3 L340.1,334.2 L340.9,338.2 L341.6,342.2 L342.4,346.1 L343.2,350.1 L344,354.1 L344.7,358 L345.5,362 L346.3,366 L347.1,369.9 L347.8,373.9 L348.6,377.9 L349.3,381.8 L350.1,385.8 L350.8,389.8 L351.6,393.7 L352.3,397.7 L353,401.7 L353.8,405.7 L354.5,409.6 L355.2,413.6 L355.9,417.6 L356.6,421.6 L357.3,425.5 L358,429.5 L358.7,433.5 L359.4,437.5 L360.1,441.5 L360.7,445.5 L361.4,449.4 L362.1,453.4 L362.7,457.4 L363.4,461.4 L364,465.4 L364.7,469.4 L365.3,473.4 L365.9,477.3 L366.6,481.3 L367.2,485.3 L367.8,489.3 L368.4,493.3 L369,497.3 L369.6,501.3 L370.2,505.3 L370.7,509.3 L371.3,513.3 L371.9,517.3 L372.4,521.3 L373,525.3 L373.5,529.3 L374.1,533.3 L374.6,537.3 L375.1,541.3 L375.7,545.3 L376.2,549.3 L376.7,553.3 L377.2,557.3 L377.7,561.3 L378.2,565.4 L378.6,569.4 L379.1,573.4 L379.6,577.4 L380,581.4 L380.5,585.4 L380.9,589.4 L381.4,593.5 L381.8,597.5 L382.2,601.5 L382.6,605.5 L383.1,609.5 L383.5,613.6 L383.9,617.6 L384.2,621.6 L384.6,625.6 L385,629.7 L385.4,633.7 L385.7,637.7 L386.1,641.7 L386.4,645.8 L386.7,649.8 L387.1,653.8 L387.4,657.9 L387.7,661.9 L388,665.9 L388.3,670 L388.6,674 L388.4,678 L388.2,682.1 L388,686.1 L387.8,690.2 L387.6,694.2 L387.3,698.3 L387.1,702.3 L386.8,706.4 L386.6,710.4 L386.3,714.4 L386,718.5 L385.8,722.5 L385.5,726.6 L385.2,730.6 L384.9,734.7 L384.5,738.7 L384.2,742.7 L383.9,746.8 L383.6,750.8 L383.2,754.9 L382.8,758.9 L382.5,762.9 L382.1,767 L381.7,771 L381.3,775 L380.9,779.1 L380.5,783.1 L380.1,787.1 L379.7,791.2 L379.2,795.2 L378.8,799.2 L378.3,803.3 L377.8,807.3 L377.4,811.3 L376.9,815.4 L376.4,819.4 L375.9,823.4 L375.3,827.4 L374.8,831.4 L374.3,835.5 L373.7,839.5 L373.2,843.5 L372.6,847.5 L372,851.5 L371.4,855.5 L370.8,859.5 L370.2,863.6 L369.6,867.6 L368.9,871.6 L368.3,875.6 L367.6,879.6 L367,883.6 L366.3,887.6 L365.6,891.6 L364.9,895.6 L364.2,899.6 L363.5,903.5 L362.7,907.5 L362,911.5 L361.2,915.5 L360.4,919.5 L359.7,923.5 L358.9,927.4 L358.1,931.4 L357.2,935.4 L356.4,939.4 L355.6,943.3 L354.8,947.3 L353.9,951.3 L353.1,955.2 L352.2,959.2 L351.3,963.2 L350.5,967.1 L349.6,971.1 L348.8,975 L347.9,979 L347,983 L346.2,986.9 L345.3,990.9 L344.4,994.8 L343.6,998.8 L342.7,1002.8 L341.8,1006.7 L341,1010.7 L340.1,1014.6 L339.3,1018.6 L338.5,1022.5 L337.6,1026.5 L336.8,1030.4 L336,1034.4 L335.2,1038.4 L334.4,1042.3 L333.6,1046.3 L332.9,1050.2 L332.1,1054.2 L331.4,1058.1 L330.6,1062.1 L329.9,1066.1 L329.2,1070 L328.5,1074 L327.9,1078 L327.2,1081.9 L326.6,1085.9 L326.1,1089.9 L325.5,1093.9 L325,1097.9 L324.5,1101.9 L324.1,1105.9 L323.7,1110 L323.3,1114 L322.8,1118 L322.4,1122.1 L322,1126.1 L321.5,1130.1 L321,1134.1 L320.4,1138.2 L319.7,1142.2 L318.9,1146.1 L318.1,1150.1 L317.1,1154.1 L316,1158"/>
<path d="M315.5,163 L316.1,167 L316.8,171 L317.5,175 L318.2,179 L318.9,183 L319.6,187 L320.4,190.9 L321.2,194.9 L322,198.9 L322.8,202.8 L323.6,206.8 L324.4,210.8 L325.3,214.7 L326.1,218.7 L327,222.6 L327.9,226.6 L328.8,230.5 L329.7,234.5 L330.7,238.4 L331.6,242.3 L332.5,246.3 L333.5,250.2 L334.5,254.1 L335.4,258.1 L336.4,262 L337.4,265.9 L338.4,269.8 L339.5,273.8 L340.5,277.7 L341.5,281.6 L342.5,285.5 L343.6,289.4 L344.6,293.4 L345.7,297.3 L346.7,301.2 L347.8,305.1 L348.8,309 L349.9,312.9 L350.9,316.8 L352,320.7 L353.1,324.7 L354.2,328.6 L355.2,332.5 L356.3,336.4 L357.4,340.3 L358.4,344.2 L359.5,348.1 L360.6,352 L361.6,355.9 L362.7,359.9 L363.7,363.8 L364.8,367.7 L365.8,371.6 L366.9,375.5 L367.9,379.4 L369,383.4 L370,387.3 L371,391.2 L372,395.1 L373,399.1 L374,403 L375,406.9 L376,410.8 L377,414.8 L378,418.7 L378.9,422.7 L379.9,426.6 L380.8,430.5 L381.8,434.5 L382.7,438.4 L383.6,442.4 L384.6,446.3 L385.5,450.3 L386.4,454.2 L387.3,458.2 L388.2,462.1 L389.1,466.1 L389.9,470 L390.8,474 L391.7,477.9 L392.5,481.9 L393.4,485.9 L394.2,489.8 L395,493.8 L395.9,497.8 L396.7,501.7 L397.5,505.7 L398.3,509.7 L399.1,513.7 L399.8,517.6 L400.6,521.6 L401.4,525.6 L402.1,529.6 L402.9,533.6 L403.6,537.5 L404.3,541.5 L405.1,545.5 L405.8,549.5 L406.5,553.5 L407.2,557.5 L407.9,561.5 L408.5,565.5 L409.2,569.5 L409.9,573.5 L410.5,577.5 L411.1,581.5 L411.8,585.5 L412.4,589.5 L413,593.5 L413.6,597.5 L414.2,601.5 L414.8,605.5 L415.4,609.5 L415.9,613.6 L416.5,617.6 L417,621.6 L417.6,625.6 L418.1,629.6 L418.6,633.7 L419.1,637.7 L419.6,641.7 L420.1,645.8 L420.6,649.8 L421,653.8 L421.5,657.8 L421.9,661.9 L422.4,665.9 L422.8,670 L423.2,674 L423,678.1 L422.8,682.2 L422.5,686.2 L422.3,690.3 L422,694.4 L421.7,698.4 L421.4,702.5 L421.1,706.6 L420.7,710.6 L420.3,714.7 L420,718.7 L419.6,722.8 L419.1,726.8 L418.7,730.9 L418.3,734.9 L417.8,738.9 L417.3,743 L416.8,747 L416.3,751 L415.8,755.1 L415.2,759.1 L414.7,763.1 L414.1,767.1 L413.5,771.1 L412.9,775.2 L412.3,779.2 L411.7,783.2 L411,787.2 L410.4,791.2 L409.7,795.2 L409,799.2 L408.3,803.2 L407.6,807.2 L406.9,811.2 L406.1,815.1 L405.4,819.1 L404.6,823.1 L403.9,827.1 L403.1,831.1 L402.3,835.1 L401.5,839 L400.7,843 L399.9,847 L399,850.9 L398.2,854.9 L397.3,858.9 L396.4,862.8 L395.6,866.8 L394.7,870.8 L393.8,874.7 L392.9,878.7 L392,882.6 L391.1,886.6 L390.1,890.5 L389.2,894.5 L388.3,898.4 L387.3,902.4 L386.3,906.3 L385.4,910.3 L384.4,914.2 L383.4,918.1 L382.4,922.1 L381.4,926 L380.4,930 L379.4,933.9 L378.4,937.8 L377.4,941.8 L376.4,945.7 L375.4,949.6 L374.3,953.5 L373.3,957.5 L372.2,961.4 L371.2,965.3 L370.2,969.3 L369.1,973.2 L368,977.1 L367,981 L365.9,985 L364.9,988.9 L363.8,992.8 L362.7,996.7 L361.7,1000.6 L360.6,1004.6 L359.5,1008.5 L358.5,1012.4 L357.4,1016.3 L356.3,1020.3 L355.3,1024.2 L354.2,1028.1 L353.2,1032 L352.1,1035.9 L351,1039.9 L350,1043.8 L348.9,1047.7 L347.8,1051.6 L346.8,1055.6 L345.7,1059.5 L344.7,1063.4 L343.7,1067.3 L342.6,1071.3 L341.6,1075.2 L340.5,1079.1 L339.5,1083 L338.5,1087 L337.5,1090.9 L336.5,1094.8 L335.4,1098.8 L334.4,1102.7 L333.5,1106.6 L332.5,1110.6 L331.5,1114.5 L330.5,1118.4 L329.5,1122.4 L328.6,1126.3 L327.6,1130.3 L326.7,1134.2 L325.7,1138.1 L324.8,1142.1 L323.9,1146 L323,1150"/>
<path d="M325,163 L326.1,166.9 L327.2,170.8 L328.3,174.6 L329.4,178.5 L330.6,182.4 L331.7,186.2 L332.9,190.1 L334.1,193.9 L335.4,197.7 L336.6,201.6 L337.8,205.4 L339.1,209.2 L340.4,213 L341.7,216.8 L343,220.6 L344.3,224.4 L345.7,228.2 L347,232 L348.4,235.8 L349.8,239.6 L351.2,243.4 L352.6,247.2 L354,250.9 L355.4,254.7 L356.8,258.5 L358.3,262.2 L359.7,266 L361.2,269.7 L362.7,273.5 L364.1,277.2 L365.6,281 L367.1,284.7 L368.6,288.5 L370.1,292.2 L371.6,295.9 L373.1,299.7 L374.7,303.4 L376.2,307.1 L377.7,310.9 L379.2,314.6 L380.8,318.3 L382.3,322.1 L383.9,325.8 L385.4,329.5 L387,333.2 L388.5,337 L390.1,340.7 L391.6,344.4 L393.2,348.1 L394.7,351.9 L396.3,355.6 L397.8,359.3 L399.4,363 L400.9,366.8 L402.4,370.5 L404,374.2 L405.5,377.9 L407.1,381.7 L408.6,385.4 L410.1,389.1 L411.6,392.9 L413.1,396.6 L414.7,400.3 L416.2,404.1 L417.7,407.8 L419.2,411.6 L420.6,415.3 L422.1,419.1 L423.6,422.8 L425,426.6 L426.5,430.3 L427.9,434.1 L429.4,437.9 L430.8,441.6 L432.2,445.4 L433.6,449.2 L435,452.9 L436.4,456.7 L437.7,460.5 L439.1,464.3 L440.4,468.1 L441.8,471.9 L443.1,475.7 L444.4,479.5 L445.7,483.3 L447,487.1 L448.3,490.9 L449.6,494.7 L450.8,498.6 L452.1,502.4 L453.3,506.2 L454.5,510 L455.7,513.9 L456.9,517.7 L458.1,521.6 L459.3,525.4 L460.5,529.3 L461.7,533.1 L462.8,537 L464,540.8 L465.1,544.7 L466.2,548.6 L467.3,552.4 L468.4,556.3 L469.5,560.2 L470.6,564.1 L471.7,567.9 L472.7,571.8 L473.8,575.7 L474.8,579.6 L475.8,583.5 L476.8,587.4 L477.8,591.3 L478.8,595.2 L479.8,599.1 L480.8,603 L481.8,607 L482.7,610.9 L483.7,614.8 L484.6,618.7 L485.5,622.7 L486.4,626.6 L487.3,630.5 L488.2,634.5 L489.1,638.4 L490,642.3 L490.8,646.3 L491.7,650.2 L492.5,654.2 L493.4,658.2 L494.2,662.1 L495,666.1 L495.8,670 L496.6,674 L496.6,678.1 L496.6,682.3 L496.6,686.4 L496.5,690.5 L496.4,694.6 L496.2,698.7 L496,702.7 L495.8,706.8 L495.5,710.9 L495.2,714.9 L494.9,719 L494.5,723 L494.1,727 L493.6,731.1 L493.1,735.1 L492.6,739.1 L492.1,743.1 L491.5,747.1 L490.9,751 L490.2,755 L489.5,759 L488.8,762.9 L488.1,766.9 L487.3,770.8 L486.5,774.8 L485.7,778.7 L484.9,782.6 L484,786.5 L483.1,790.4 L482.2,794.3 L481.2,798.2 L480.2,802.1 L479.2,806 L478.2,809.9 L477.1,813.8 L476,817.6 L474.9,821.5 L473.8,825.3 L472.7,829.2 L471.5,833 L470.3,836.9 L469.1,840.7 L467.9,844.5 L466.6,848.4 L465.4,852.2 L464.1,856 L462.8,859.8 L461.4,863.6 L460.1,867.4 L458.7,871.2 L457.4,875 L456,878.8 L454.6,882.6 L453.1,886.4 L451.7,890.1 L450.3,893.9 L448.8,897.7 L447.3,901.4 L445.9,905.2 L444.4,909 L442.8,912.7 L441.3,916.5 L439.8,920.2 L438.3,924 L436.7,927.7 L435.2,931.5 L433.6,935.2 L432,938.9 L430.4,942.7 L428.9,946.4 L427.3,950.2 L425.7,953.9 L424.1,957.6 L422.4,961.3 L420.8,965.1 L419.2,968.8 L417.6,972.5 L416,976.2 L414.3,980 L412.7,983.7 L411.1,987.4 L409.5,991.1 L407.8,994.8 L406.2,998.6 L404.6,1002.3 L402.9,1006 L401.3,1009.7 L399.7,1013.4 L398.1,1017.2 L396.4,1020.9 L394.8,1024.6 L393.2,1028.3 L391.6,1032 L390,1035.8 L388.4,1039.5 L386.8,1043.2 L385.2,1046.9 L383.7,1050.6 L382.1,1054.4 L380.5,1058.1 L379,1061.8 L377.4,1065.6 L375.9,1069.3 L374.4,1073 L372.8,1076.8 L371.3,1080.5 L369.8,1084.2 L368.4,1088 L366.9,1091.7 L365.4,1095.5 L364,1099.2 L362.6,1103 L361.2,1106.7 L359.8,1110.5 L358.4,1114.2 L357,1118"/>
<path d="M361,166 L362.3,169.8 L363.7,173.5 L365.2,177.3 L366.7,180.9 L368.4,184.5 L370.1,188.1 L371.9,191.6 L373.8,195.1 L375.7,198.6 L377.7,202 L379.8,205.4 L381.9,208.8 L384.1,212.2 L386.3,215.5 L388.6,218.7 L390.9,222 L393.2,225.2 L395.7,228.4 L398.1,231.6 L400.6,234.8 L403.1,237.9 L405.6,241.1 L408.2,244.2 L410.8,247.3 L413.4,250.4 L416,253.5 L418.6,256.5 L421.3,259.6 L423.9,262.7 L426.6,265.7 L429.3,268.7 L431.9,271.8 L434.6,274.8 L437.3,277.8 L440,280.9 L442.6,283.9 L445.3,286.9 L448,289.9 L450.7,292.9 L453.4,295.9 L456.1,298.9 L458.9,301.9 L461.6,304.9 L464.3,307.9 L467,310.9 L469.7,313.9 L472.4,316.9 L475.2,319.8 L477.9,322.8 L480.6,325.8 L483.3,328.8 L486.1,331.7 L488.8,334.7 L491.5,337.7 L494.2,340.7 L497,343.6 L499.7,346.6 L502.4,349.6 L505.2,352.5 L507.9,355.5 L510.6,358.5 L513.3,361.5 L516.1,364.4 L518.8,367.4 L521.5,370.4 L524.2,373.4 L526.9,376.3 L529.6,379.3 L532.3,382.3 L535.1,385.3 L537.8,388.3 L540.5,391.3 L543.2,394.2 L545.9,397.2 L548.6,400.2 L551.3,403.2 L554,406.2 L556.7,409.2 L559.3,412.2 L562,415.2 L564.7,418.2 L567.4,421.2 L570.1,424.2 L572.8,427.2 L575.5,430.2 L578.1,433.2 L580.8,436.2 L583.5,439.3 L586.2,442.3 L588.8,445.3 L591.5,448.3 L594.2,451.3 L596.8,454.3 L599.5,457.4 L602.2,460.4 L604.8,463.4 L607.5,466.4 L610.1,469.5 L612.8,472.5 L615.4,475.5 L618.1,478.6 L620.7,481.6 L623.4,484.6 L626,487.7 L628.7,490.7 L631.3,493.7 L634,496.8 L636.6,499.8 L639.2,502.9 L641.9,505.9 L644.5,509 L647.1,512 L649.8,515.1 L652.4,518.1 L655,521.2 L657.6,524.2 L660.3,527.3 L662.9,530.3 L665.5,533.4 L668.1,536.5 L670.8,539.5 L673.4,542.6 L676,545.7 L678.6,548.7 L681.2,551.8 L683.8,554.9 L686.4,558 L689,561 L691.7,564.1 L694.3,567.2 L696.9,570.2 L699.5,573.3 L702.1,576.4 L704.7,579.5 L707.4,582.5 L710,585.6 L712.6,588.6 L715.3,591.7 L717.9,594.7 L720.5,597.8 L723.2,600.8 L725.9,603.8 L728.5,606.8 L731.2,609.8 L733.9,612.8 L736.6,615.8 L739.4,618.8 L742.1,621.7 L744.8,624.7 L747.6,627.6 L750.4,630.6 L753.1,633.5 L755.9,636.4 L758.8,639.3 L761.6,642.1 L764.4,645 L767.3,647.8 L770.2,650.6 L773.1,653.4 L776,656.2 L779,659 L781.9,661.7 L784.9,664.5 L787.9,667.2 L790.9,669.8 L794,672.5 L795.7,676.3 L797.4,680 L799.2,683.7 L801.1,687.4 L803,691.1 L804.9,694.7 L806.9,698.3 L809,701.9 L811.1,705.4 L813.3,708.9 L815.6,712.3 L817.9,715.7 L820.2,719.1 L822.6,722.4 L825.1,725.7 L827.6,728.9 L830.2,732 L832.8,735.1 L835.5,738.2 L838.3,741.2 L841.1,744.1 L843.9,746.9 L846.8,749.8 L849.8,752.5 L852.8,755.2 L855.8,757.7 L858.9,760.3 L862.1,762.7 L865.3,765.1 L868.6,767.4 L871.9,769.6 L875.2,771.8 L878.7,773.8 L882.1,775.8 L885.6,777.7 L889.2,779.5 L892.8,781.2 L896.5,782.8 L900.2,784.4 L903.9,785.9 L907.7,787.3 L911.5,788.6 L915.3,789.8 L919.2,791 L923.1,792.1 L927,793.1 L931,794.1 L935,795 L939,795.8 L943,796.6 L947.1,797.2 L951.1,797.9 L955.2,798.4 L959.3,798.9 L963.4,799.3 L967.5,799.7 L971.6,800 L975.8,800.3 L979.9,800.5 L984,800.6 L988.2,800.7 L992.3,800.8 L996.4,800.8 L1000.5,800.7 L1004.7,800.6 L1008.8,800.4 L1012.9,800.2 L1016.9,800 L1021,799.7 L1025.1,799.3 L1029.1,798.9 L1033.1,798.5 L1037.1,798 L1041.1,797.5 L1045,797"/>
</g></g>
<g clip-path="url(#co)">
<path fill="#00ffff" d="M310.8,70 L310.8,74.3 L310.8,78.6 L310.8,82.8 L310.9,87.1 L311,91.4 L311.2,95.7 L311.4,100 L311.6,104.2 L311.8,108.5 L312.1,112.8 L312.4,117 L312.7,121.3 L313,125.6 L313.3,129.9 L313.7,134.1 L314,138.4 L314.3,142.7 L314.7,146.9 L315,151.2 L315.4,155.5 L315.7,159.7 L316,164 L300,200 L300,1178 L307,1182 L307,1182 L308.4,1185.1 L309.3,1188.8 L309.8,1193 L310,1197.6 L310,1202.3 L310,1207.1 L310.2,1211.7 L310.6,1216.1 L311.4,1220 L312.7,1223.3 L314.6,1225.9 L317.2,1227.6 L320.4,1228.6 L323.9,1228.9 L327.7,1228.6 L331.8,1227.9 L336,1226.9 L340.3,1225.6 L344.7,1224.3 L349,1223 L353.3,1221.8 L357.6,1220.6 L361.8,1219.5 L366,1218.4 L370.1,1217.3 L374.2,1216.3 L378.3,1215.3 L382.4,1214.4 L386.5,1213.4 L390.5,1212.5 L394.5,1211.6 L398.5,1210.8 L402.4,1209.9 L406.4,1209.1 L410.3,1208.3 L414.3,1207.5 L418.2,1206.6 L422.1,1205.8 L426,1205 L430,1204.2 L433.9,1203.4 L437.8,1202.5 L441.7,1201.6 L445.7,1200.8 L449.6,1199.9 L453.6,1198.9 L457.5,1198 L461.5,1197 L465.5,1196 L469.5,1194.9 L473.6,1193.8 L477.6,1192.7 L481.7,1191.5 L485.9,1190.3 L490,1189 L495,1200 L1600,1200 L1600,60 Z"/>
<path fill="#00ff80" d="M310.8,70 L310.8,74.3 L310.8,78.6 L310.8,82.8 L310.9,87.1 L311,91.4 L311.2,95.7 L311.4,100 L311.6,104.2 L311.8,108.5 L312.1,112.8 L312.4,117 L312.7,121.3 L313,125.6 L313.3,129.9 L313.7,134.1 L314,138.4 L314.3,142.7 L314.7,146.9 L315,151.2 L315.4,155.5 L315.7,159.7 L316,164 L300,200 L300,1168 L309,1172 L309,1172 L309.3,1175.7 L309.4,1179.8 L309.5,1184.1 L309.5,1188.6 L309.7,1193.1 L309.9,1197.6 L310.4,1201.9 L311,1206 L312,1209.7 L313.4,1213 L315.2,1215.8 L317.5,1218 L320.3,1219.5 L323.6,1220.4 L327.2,1220.8 L331.1,1220.8 L335.2,1220.5 L339.4,1219.9 L343.6,1219.2 L347.8,1218.4 L352,1217.5 L356.1,1216.6 L360.2,1215.6 L364.2,1214.6 L368.2,1213.5 L372.2,1212.5 L376.2,1211.4 L380.1,1210.3 L384.1,1209.2 L388,1208.1 L392,1207 L395.9,1206 L399.9,1204.9 L403.8,1203.8 L407.7,1202.8 L411.7,1201.7 L415.6,1200.7 L419.5,1199.7 L423.5,1198.7 L427.4,1197.7 L431.3,1196.7 L435.3,1195.7 L439.2,1194.7 L443.1,1193.8 L447,1192.8 L451,1191.8 L454.9,1190.9 L458.8,1189.9 L462.8,1189 L466.7,1188.1 L470.7,1187.2 L474.6,1186.2 L478.5,1185.3 L482.5,1184.4 L486.4,1183.5 L490.4,1182.7 L494.3,1181.8 L498.3,1180.9 L502.2,1180 L506.2,1179.2 L510.2,1178.3 L514.1,1177.5 L518.1,1176.6 L522.1,1175.8 L526,1174.9 L530,1174.1 L534,1173.3 L538,1172.4 L542,1171.6 L546,1170.8 L550,1170 L555,1185 L1600,1185 L1600,60 Z"/>
<path fill="#00ff00" d="M310.8,70 L310.8,74.3 L310.8,78.6 L310.8,82.8 L310.9,87.1 L311,91.4 L311.2,95.7 L311.4,100 L311.6,104.2 L311.8,108.5 L312.1,112.8 L312.4,117 L312.7,121.3 L313,125.6 L313.3,129.9 L313.7,134.1 L314,138.4 L314.3,142.7 L314.7,146.9 L315,151.2 L315.4,155.5 L315.7,159.7 L316,164 L300,200 L300,1158 L316.5,1162 L316.5,1162 L316.3,1166 L316.2,1170.2 L316.1,1174.5 L316.2,1178.9 L316.4,1183.3 L316.9,1187.6 L317.6,1191.8 L318.6,1195.6 L320,1199.1 L321.8,1202.2 L324,1204.7 L326.8,1206.7 L329.9,1208 L333.4,1208.9 L337.2,1209.3 L341.2,1209.4 L345.2,1209.1 L349.3,1208.6 L353.3,1207.9 L357.4,1207 L361.4,1206 L365.5,1204.9 L369.6,1203.7 L373.6,1202.6 L377.7,1201.4 L381.7,1200.2 L385.7,1199.1 L389.7,1198 L393.7,1196.9 L397.7,1195.8 L401.7,1194.7 L405.7,1193.7 L409.7,1192.6 L413.6,1191.6 L417.6,1190.6 L421.5,1189.6 L425.4,1188.6 L429.4,1187.6 L433.3,1186.7 L437.2,1185.7 L441.2,1184.8 L445.1,1183.8 L449,1182.9 L452.9,1182 L456.8,1181.1 L460.8,1180.2 L464.7,1179.3 L468.6,1178.5 L472.5,1177.6 L476.4,1176.7 L480.4,1175.9 L484.3,1175.1 L488.2,1174.2 L492.1,1173.4 L496.1,1172.6 L500,1171.8 L504,1171 L507.9,1170.2 L511.9,1169.4 L515.8,1168.6 L519.8,1167.8 L523.8,1167.1 L527.8,1166.3 L531.8,1165.5 L535.8,1164.8 L539.8,1164 L543.8,1163.2 L547.9,1162.5 L551.9,1161.7 L556,1161 L560,1180 L1600,1180 L1600,60 Z"/>
<path fill="#ffff00" d="M314.4,70 L314.3,74.3 L314.3,78.6 L314.4,82.9 L314.5,87.1 L314.7,91.4 L314.9,95.7 L315.2,100 L315.5,104.3 L315.8,108.5 L316.1,112.8 L316.5,117.1 L316.9,121.3 L317.4,125.6 L317.8,129.9 L318.2,134.1 L318.6,138.4 L319.1,142.7 L319.5,146.9 L319.9,151.2 L320.3,155.5 L320.7,159.7 L321,164 L300,200 L300,1140 L333,1144 L333,1144 L332.5,1147.9 L331.8,1152.1 L331.2,1156.6 L330.8,1161 L330.7,1165.4 L331.2,1169.5 L332.3,1173.2 L334,1176.6 L336.3,1179.5 L339.1,1181.9 L342.2,1184 L345.6,1185.5 L349.1,1186.7 L352.7,1187.4 L356.4,1187.8 L360.1,1187.8 L364,1187.5 L367.9,1187 L371.9,1186.2 L375.9,1185.2 L380,1184.1 L384.1,1182.9 L388.2,1181.5 L392.3,1180.1 L396.4,1178.7 L400.5,1177.4 L404.6,1176 L408.7,1174.7 L412.7,1173.5 L416.7,1172.3 L420.7,1171.1 L424.7,1170 L428.7,1168.9 L432.7,1167.9 L436.6,1166.9 L440.5,1165.9 L444.5,1164.9 L448.4,1164 L452.3,1163.1 L456.2,1162.2 L460.1,1161.3 L464,1160.4 L467.9,1159.6 L471.8,1158.7 L475.7,1157.9 L479.6,1157 L483.5,1156.2 L487.4,1155.4 L491.3,1154.5 L495.3,1153.7 L499.2,1152.8 L503.1,1152 L507.1,1151.1 L511,1150.3 L515,1149.4 L518.9,1148.5 L522.9,1147.7 L526.8,1146.8 L530.8,1145.9 L534.8,1145.1 L538.8,1144.2 L542.7,1143.3 L546.7,1142.5 L550.7,1141.6 L554.7,1140.7 L558.7,1139.8 L562.7,1139 L566.7,1138.1 L570.7,1137.2 L574.6,1136.4 L578.6,1135.5 L582.6,1134.7 L586.6,1133.8 L590.6,1133 L594.6,1132.1 L598.6,1131.3 L602.6,1130.5 L606.6,1129.7 L610.6,1128.8 L614.6,1128 L618.6,1127.2 L622.6,1126.4 L626.5,1125.7 L630.5,1124.9 L634.5,1124.1 L638.5,1123.4 L642.4,1122.6 L646.4,1121.9 L650.4,1121.1 L654.3,1120.4 L658.3,1119.7 L662.2,1119 L666.1,1118.3 L670.1,1117.7 L674,1117 L680,1140 L1600,1140 L1600,60 Z"/>
<path fill="#ff8000" d="M323.8,70 L323.7,74.2 L323.7,78.4 L323.7,82.6 L323.9,86.8 L324.1,91 L324.4,95.2 L324.7,99.3 L325.2,103.5 L325.6,107.7 L326.1,111.9 L326.6,116 L327.2,120.2 L327.7,124.4 L328.3,128.5 L328.9,132.7 L329.5,136.8 L330.1,141 L330.6,145.2 L331.2,149.3 L331.7,153.5 L332.2,157.7 L332.6,161.8 L333,166 L300,200 L300,1097 L381,1101 L381,1101 L381.5,1105.9 L382.5,1110.4 L384,1114.5 L385.9,1118.2 L388.2,1121.4 L390.8,1124 L393.8,1125.9 L397,1127.2 L400.5,1128 L404.2,1128.3 L408.1,1128.2 L412,1127.9 L416,1127.4 L420.1,1126.8 L424.1,1126.2 L428.1,1125.6 L432.1,1125 L436.1,1124.3 L440.1,1123.7 L444.1,1123 L448.1,1122.2 L452.1,1121.5 L456.1,1120.7 L460,1120 L464,1119.2 L468,1118.4 L472,1117.6 L475.9,1116.7 L479.9,1115.9 L483.8,1115 L487.8,1114.1 L491.7,1113.3 L495.7,1112.4 L499.6,1111.5 L503.6,1110.6 L507.5,1109.7 L511.5,1108.8 L515.4,1107.8 L519.4,1106.9 L523.3,1106 L527.3,1105.1 L531.2,1104.2 L535.1,1103.2 L539.1,1102.3 L543,1101.4 L547,1100.5 L550.9,1099.5 L554.8,1098.6 L558.8,1097.7 L562.7,1096.8 L566.7,1095.9 L570.6,1095 L574.6,1094.1 L578.5,1093.2 L582.5,1092.3 L586.4,1091.4 L590.4,1090.6 L594.3,1089.7 L598.3,1088.8 L602.2,1087.9 L606.2,1087.1 L610.1,1086.2 L614.1,1085.3 L618,1084.5 L622,1083.6 L625.9,1082.8 L629.9,1081.9 L633.8,1081.1 L637.8,1080.2 L641.8,1079.4 L645.7,1078.6 L649.7,1077.7 L653.6,1076.9 L657.6,1076.1 L661.6,1075.3 L665.5,1074.4 L669.5,1073.6 L673.4,1072.8 L677.4,1072 L681.4,1071.2 L685.3,1070.4 L689.3,1069.6 L693.2,1068.8 L697.2,1068 L701.2,1067.2 L705.1,1066.4 L709.1,1065.6 L713.1,1064.8 L717,1064 L721,1063.2 L725,1062.4 L728.9,1061.6 L732.9,1060.9 L736.9,1060.1 L740.8,1059.3 L744.8,1058.5 L748.8,1057.8 L752.8,1057 L756.7,1056.2 L760.7,1055.5 L764.7,1054.7 L768.6,1053.9 L772.6,1053.2 L776.6,1052.4 L780.6,1051.7 L784.5,1050.9 L788.5,1050.2 L792.5,1049.4 L796.5,1048.7 L800.4,1047.9 L804.4,1047.2 L808.4,1046.4 L812.4,1045.7 L816.3,1045 L820.3,1044.2 L824.3,1043.5 L828.3,1042.7 L832.2,1042 L836.2,1041.3 L840.2,1040.5 L844.2,1039.8 L848.1,1039.1 L852.1,1038.3 L856.1,1037.6 L860.1,1036.9 L864.1,1036.2 L868,1035.4 L872,1034.7 L876,1034 L885,1060 L1600,1060 L1600,60 Z"/>
<path fill="#ff0000" d="M353.4,70 L353.2,74.2 L353.2,78.5 L353.3,82.7 L353.5,86.9 L353.9,91.1 L354.4,95.2 L355,99.4 L355.7,103.6 L356.5,107.7 L357.4,111.8 L358.4,115.9 L359.6,120 L360.8,124 L362,128 L363.4,132.1 L364.8,136 L366.3,140 L367.8,143.9 L369.4,147.9 L371.1,151.7 L372.8,155.6 L374.5,159.4 L376.2,163.2 L378,167 L390,200 L1070,765 L1090,776 L1093.9,776.8 L1097.9,777.4 L1101.9,777.9 L1105.8,778.3 L1109.8,778.6 L1113.8,778.7 L1117.8,778.8 L1121.9,778.9 L1125.9,778.8 L1129.9,778.7 L1133.9,778.6 L1138,778.4 L1142,778.2 L1146.1,777.9 L1150.1,777.7 L1154.1,777.4 L1158.2,777.1 L1162.2,776.8 L1166.3,776.5 L1170.4,776.2 L1174.4,775.9 L1178.5,775.6 L1182.5,775.2 L1186.6,774.9 L1190.6,774.5 L1194.7,774.2 L1198.7,773.8 L1202.8,773.5 L1206.9,773.1 L1210.9,772.7 L1215,772.3 L1219.1,771.9 L1223.1,771.5 L1227.2,771.1 L1231.2,770.7 L1235.3,770.3 L1239.4,769.9 L1243.4,769.5 L1247.5,769.1 L1251.5,768.6 L1255.6,768.2 L1259.7,767.8 L1263.7,767.4 L1267.8,767 L1271.8,766.5 L1275.9,766.1 L1279.9,765.7 L1284,765.3 L1288,764.8 L1292.1,764.4 L1296.1,764 L1300.2,763.6 L1304.2,763.2 L1308.3,762.8 L1312.3,762.3 L1316.4,761.9 L1320.4,761.5 L1324.5,761.1 L1328.5,760.7 L1332.5,760.3 L1336.6,759.8 L1340.6,759.4 L1344.7,759 L1348.7,758.6 L1352.7,758.1 L1356.8,757.7 L1360.8,757.3 L1364.9,756.9 L1368.9,756.4 L1372.9,756 L1377,755.5 L1381,755.1 L1385,754.7 L1389.1,754.2 L1393.1,753.8 L1397.1,753.3 L1401.2,752.9 L1405.2,752.4 L1409.2,751.9 L1413.3,751.5 L1417.3,751 L1421.4,750.5 L1425.4,750 L1429.4,749.5 L1433.5,749 L1437.5,748.5 L1441.5,748 L1445.6,747.5 L1449.6,747 L1453.6,746.5 L1457.7,746 L1461.7,745.4 L1465.8,744.9 L1469.8,744.3 L1473.8,743.8 L1477.9,743.2 L1481.9,742.7 L1486,742.1 L1490,741.5 L1600,742 L1600,60 Z"/>
<g fill="none" stroke="#000" stroke-width="3.5" stroke-linejoin="round">
<path d="M353.4,70 L353.2,74.2 L353.2,78.5 L353.3,82.7 L353.5,86.9 L353.9,91.1 L354.4,95.2 L355,99.4 L355.7,103.6 L356.5,107.7 L357.4,111.8 L358.4,115.9 L359.6,120 L360.8,124 L362,128 L363.4,132.1 L364.8,136 L366.3,140 L367.8,143.9 L369.4,147.9 L371.1,151.7 L372.8,155.6 L374.5,159.4 L376.2,163.2 L378,167"/>
<path d="M323.8,70 L323.7,74.2 L323.7,78.4 L323.7,82.6 L323.9,86.8 L324.1,91 L324.4,95.2 L324.7,99.3 L325.2,103.5 L325.6,107.7 L326.1,111.9 L326.6,116 L327.2,120.2 L327.7,124.4 L328.3,128.5 L328.9,132.7 L329.5,136.8 L330.1,141 L330.6,145.2 L331.2,149.3 L331.7,153.5 L332.2,157.7 L332.6,161.8 L333,166"/>
<path d="M314.4,70 L314.3,74.3 L314.3,78.6 L314.4,82.9 L314.5,87.1 L314.7,91.4 L314.9,95.7 L315.2,100 L315.5,104.3 L315.8,108.5 L316.1,112.8 L316.5,117.1 L316.9,121.3 L317.4,125.6 L317.8,129.9 L318.2,134.1 L318.6,138.4 L319.1,142.7 L319.5,146.9 L319.9,151.2 L320.3,155.5 L320.7,159.7 L321,164"/>
<path d="M1090,776 L1093.9,776.8 L1097.9,777.4 L1101.9,777.9 L1105.8,778.3 L1109.8,778.6 L1113.8,778.7 L1117.8,778.8 L1121.9,778.9 L1125.9,778.8 L1129.9,778.7 L1133.9,778.6 L1138,778.4 L1142,778.2 L1146.1,777.9 L1150.1,777.7 L1154.1,777.4 L1158.2,777.1 L1162.2,776.8 L1166.3,776.5 L1170.4,776.2 L1174.4,775.9 L1178.5,775.6 L1182.5,775.2 L1186.6,774.9 L1190.6,774.5 L1194.7,774.2 L1198.7,773.8 L1202.8,773.5 L1206.9,773.1 L1210.9,772.7 L1215,772.3 L1219.1,771.9 L1223.1,771.5 L1227.2,771.1 L1231.2,770.7 L1235.3,770.3 L1239.4,769.9 L1243.4,769.5 L1247.5,769.1 L1251.5,768.6 L1255.6,768.2 L1259.7,767.8 L1263.7,767.4 L1267.8,767 L1271.8,766.5 L1275.9,766.1 L1279.9,765.7 L1284,765.3 L1288,764.8 L1292.1,764.4 L1296.1,764 L1300.2,763.6 L1304.2,763.2 L1308.3,762.8 L1312.3,762.3 L1316.4,761.9 L1320.4,761.5 L1324.5,761.1 L1328.5,760.7 L1332.5,760.3 L1336.6,759.8 L1340.6,759.4 L1344.7,759 L1348.7,758.6 L1352.7,758.1 L1356.8,757.7 L1360.8,757.3 L1364.9,756.9 L1368.9,756.4 L1372.9,756 L1377,755.5 L1381,755.1 L1385,754.7 L1389.1,754.2 L1393.1,753.8 L1397.1,753.3 L1401.2,752.9 L1405.2,752.4 L1409.2,751.9 L1413.3,751.5 L1417.3,751 L1421.4,750.5 L1425.4,750 L1429.4,749.5 L1433.5,749 L1437.5,748.5 L1441.5,748 L1445.6,747.5 L1449.6,747 L1453.6,746.5 L1457.7,746 L1461.7,745.4 L1465.8,744.9 L1469.8,744.3 L1473.8,743.8 L1477.9,743.2 L1481.9,742.7 L1486,742.1 L1490,741.5"/>
<path d="M381,1101 L381.5,1105.9 L382.5,1110.4 L384,1114.5 L385.9,1118.2 L388.2,1121.4 L390.8,1124 L393.8,1125.9 L397,1127.2 L400.5,1128 L404.2,1128.3 L408.1,1128.2 L412,1127.9 L416,1127.4 L420.1,1126.8 L424.1,1126.2 L428.1,1125.6 L432.1,1125 L436.1,1124.3 L440.1,1123.7 L444.1,1123 L448.1,1122.2 L452.1,1121.5 L456.1,1120.7 L460,1120 L464,1119.2 L468,1118.4 L472,1117.6 L475.9,1116.7 L479.9,1115.9 L483.8,1115 L487.8,1114.1 L491.7,1113.3 L495.7,1112.4 L499.6,1111.5 L503.6,1110.6 L507.5,1109.7 L511.5,1108.8 L515.4,1107.8 L519.4,1106.9 L523.3,1106 L527.3,1105.1 L531.2,1104.2 L535.1,1103.2 L539.1,1102.3 L543,1101.4 L547,1100.5 L550.9,1099.5 L554.8,1098.6 L558.8,1097.7 L562.7,1096.8 L566.7,1095.9 L570.6,1095 L574.6,1094.1 L578.5,1093.2 L582.5,1092.3 L586.4,1091.4 L590.4,1090.6 L594.3,1089.7 L598.3,1088.8 L602.2,1087.9 L606.2,1087.1 L610.1,1086.2 L614.1,1085.3 L618,1084.5 L622,1083.6 L625.9,1082.8 L629.9,1081.9 L633.8,1081.1 L637.8,1080.2 L641.8,1079.4 L645.7,1078.6 L649.7,1077.7 L653.6,1076.9 L657.6,1076.1 L661.6,1075.3 L665.5,1074.4 L669.5,1073.6 L673.4,1072.8 L677.4,1072 L681.4,1071.2 L685.3,1070.4 L689.3,1069.6 L693.2,1068.8 L697.2,1068 L701.2,1067.2 L705.1,1066.4 L709.1,1065.6 L713.1,1064.8 L717,1064 L721,1063.2 L725,1062.4 L728.9,1061.6 L732.9,1060.9 L736.9,1060.1 L740.8,1059.3 L744.8,1058.5 L748.8,1057.8 L752.8,1057 L756.7,1056.2 L760.7,1055.5 L764.7,1054.7 L768.6,1053.9 L772.6,1053.2 L776.6,1052.4 L780.6,1051.7 L784.5,1050.9 L788.5,1050.2 L792.5,1049.4 L796.5,1048.7 L800.4,1047.9 L804.4,1047.2 L808.4,1046.4 L812.4,1045.7 L816.3,1045 L820.3,1044.2 L824.3,1043.5 L828.3,1042.7 L832.2,1042 L836.2,1041.3 L840.2,1040.5 L844.2,1039.8 L848.1,1039.1 L852.1,1038.3 L856.1,1037.6 L860.1,1036.9 L864.1,1036.2 L868,1035.4 L872,1034.7 L876,1034"/>
<path d="M333,1144 L332.5,1147.9 L331.8,1152.1 L331.2,1156.6 L330.8,1161 L330.7,1165.4 L331.2,1169.5 L332.3,1173.2 L334,1176.6 L336.3,1179.5 L339.1,1181.9 L342.2,1184 L345.6,1185.5 L349.1,1186.7 L352.7,1187.4 L356.4,1187.8 L360.1,1187.8 L364,1187.5 L367.9,1187 L371.9,1186.2 L375.9,1185.2 L380,1184.1 L384.1,1182.9 L388.2,1181.5 L392.3,1180.1 L396.4,1178.7 L400.5,1177.4 L404.6,1176 L408.7,1174.7 L412.7,1173.5 L416.7,1172.3 L420.7,1171.1 L424.7,1170 L428.7,1168.9 L432.7,1167.9 L436.6,1166.9 L440.5,1165.9 L444.5,1164.9 L448.4,1164 L452.3,1163.1 L456.2,1162.2 L460.1,1161.3 L464,1160.4 L467.9,1159.6 L471.8,1158.7 L475.7,1157.9 L479.6,1157 L483.5,1156.2 L487.4,1155.4 L491.3,1154.5 L495.3,1153.7 L499.2,1152.8 L503.1,1152 L507.1,1151.1 L511,1150.3 L515,1149.4 L518.9,1148.5 L522.9,1147.7 L526.8,1146.8 L530.8,1145.9 L534.8,1145.1 L538.8,1144.2 L542.7,1143.3 L546.7,1142.5 L550.7,1141.6 L554.7,1140.7 L558.7,1139.8 L562.7,1139 L566.7,1138.1 L570.7,1137.2 L574.6,1136.4 L578.6,1135.5 L582.6,1134.7 L586.6,1133.8 L590.6,1133 L594.6,1132.1 L598.6,1131.3 L602.6,1130.5 L606.6,1129.7 L610.6,1128.8 L614.6,1128 L618.6,1127.2 L622.6,1126.4 L626.5,1125.7 L630.5,1124.9 L634.5,1124.1 L638.5,1123.4 L642.4,1122.6 L646.4,1121.9 L650.4,1121.1 L654.3,1120.4 L658.3,1119.7 L662.2,1119 L666.1,1118.3 L670.1,1117.7 L674,1117"/>
<path d="M316.5,1162 L316.3,1166 L316.2,1170.2 L316.1,1174.5 L316.2,1178.9 L316.4,1183.3 L316.9,1187.6 L317.6,1191.8 L318.6,1195.6 L320,1199.1 L321.8,1202.2 L324,1204.7 L326.8,1206.7 L329.9,1208 L333.4,1208.9 L337.2,1209.3 L341.2,1209.4 L345.2,1209.1 L349.3,1208.6 L353.3,1207.9 L357.4,1207 L361.4,1206 L365.5,1204.9 L369.6,1203.7 L373.6,1202.6 L377.7,1201.4 L381.7,1200.2 L385.7,1199.1 L389.7,1198 L393.7,1196.9 L397.7,1195.8 L401.7,1194.7 L405.7,1193.7 L409.7,1192.6 L413.6,1191.6 L417.6,1190.6 L421.5,1189.6 L425.4,1188.6 L429.4,1187.6 L433.3,1186.7 L437.2,1185.7 L441.2,1184.8 L445.1,1183.8 L449,1182.9 L452.9,1182 L456.8,1181.1 L460.8,1180.2 L464.7,1179.3 L468.6,1178.5 L472.5,1177.6 L476.4,1176.7 L480.4,1175.9 L484.3,1175.1 L488.2,1174.2 L492.1,1173.4 L496.1,1172.6 L500,1171.8 L504,1171 L507.9,1170.2 L511.9,1169.4 L515.8,1168.6 L519.8,1167.8 L523.8,1167.1 L527.8,1166.3 L531.8,1165.5 L535.8,1164.8 L539.8,1164 L543.8,1163.2 L547.9,1162.5 L551.9,1161.7 L556,1161"/>
<path d="M309,1172 L309.3,1175.7 L309.4,1179.8 L309.5,1184.1 L309.5,1188.6 L309.7,1193.1 L309.9,1197.6 L310.4,1201.9 L311,1206 L312,1209.7 L313.4,1213 L315.2,1215.8 L317.5,1218 L320.3,1219.5 L323.6,1220.4 L327.2,1220.8 L331.1,1220.8 L335.2,1220.5 L339.4,1219.9 L343.6,1219.2 L347.8,1218.4 L352,1217.5 L356.1,1216.6 L360.2,1215.6 L364.2,1214.6 L368.2,1213.5 L372.2,1212.5 L376.2,1211.4 L380.1,1210.3 L384.1,1209.2 L388,1208.1 L392,1207 L395.9,1206 L399.9,1204.9 L403.8,1203.8 L407.7,1202.8 L411.7,1201.7 L415.6,1200.7 L419.5,1199.7 L423.5,1198.7 L427.4,1197.7 L431.3,1196.7 L435.3,1195.7 L439.2,1194.7 L443.1,1193.8 L447,1192.8 L451,1191.8 L454.9,1190.9 L458.8,1189.9 L462.8,1189 L466.7,1188.1 L470.7,1187.2 L474.6,1186.2 L478.5,1185.3 L482.5,1184.4 L486.4,1183.5 L490.4,1182.7 L494.3,1181.8 L498.3,1180.9 L502.2,1180 L506.2,1179.2 L510.2,1178.3 L514.1,1177.5 L518.1,1176.6 L522.1,1175.8 L526,1174.9 L530,1174.1 L534,1173.3 L538,1172.4 L542,1171.6 L546,1170.8 L550,1170"/>
<path d="M307,1182 L308.4,1185.1 L309.3,1188.8 L309.8,1193 L310,1197.6 L310,1202.3 L310,1207.1 L310.2,1211.7 L310.6,1216.1 L311.4,1220 L312.7,1223.3 L314.6,1225.9 L317.2,1227.6 L320.4,1228.6 L323.9,1228.9 L327.7,1228.6 L331.8,1227.9 L336,1226.9 L340.3,1225.6 L344.7,1224.3 L349,1223 L353.3,1221.8 L357.6,1220.6 L361.8,1219.5 L366,1218.4 L370.1,1217.3 L374.2,1216.3 L378.3,1215.3 L382.4,1214.4 L386.5,1213.4 L390.5,1212.5 L394.5,1211.6 L398.5,1210.8 L402.4,1209.9 L406.4,1209.1 L410.3,1208.3 L414.3,1207.5 L418.2,1206.6 L422.1,1205.8 L426,1205 L430,1204.2 L433.9,1203.4 L437.8,1202.5 L441.7,1201.6 L445.7,1200.8 L449.6,1199.9 L453.6,1198.9 L457.5,1198 L461.5,1197 L465.5,1196 L469.5,1194.9 L473.6,1193.8 L477.6,1192.7 L481.7,1191.5 L485.9,1190.3 L490,1189"/>
</g></g>
</g>
<path fill="#000" d="M324.3,1251 L328.3,1239.2 L356.8,1239.2 L360.8,1227.3 L389.8,1227.3 L393.8,1215.5 L419.5,1215.5 L423.5,1203.7 L451.2,1203.7 L455.2,1191.9 L483.6,1191.9 L487.6,1180 L513.8,1180 L517.8,1168.2 L545.6,1168.2 L549.6,1156.4 L574.5,1156.4 L578.5,1144.6 L606.8,1144.6 L610.8,1132.8 L635.5,1132.8 L639.5,1120.9 L668.8,1120.9 L672.8,1109.1 L697.2,1109.1 L701.2,1097.3 L726.3,1097.3 L730.3,1085.5 L755.3,1085.5 L759.3,1073.6 L783.8,1073.6 L787.8,1061.8 L812.9,1061.8 L816.9,1050 L840.7,1050 L844.7,1038.2 L865.7,1038.2 L869.7,1026.3 L893.5,1026.3 L897.5,1014.5 L922.7,1014.5 L926.7,1002.7 L947.7,1002.7 L951.7,990.9 L976.1,990.9 L980.1,979 L1001.1,979 L1005.1,967.2 L1026.1,967.2 L1030.1,955.4 L1054.6,955.4 L1058.6,943.5 L1078.9,943.5 L1082.9,931.7 L1103.9,931.7 L1107.9,919.9 L1128.9,919.9 L1132.9,908.1 L1153.2,908.1 L1157.2,896.2 L1178.2,896.2 L1182.2,884.4 L1201.8,884.4 L1205.8,872.6 L1226.8,872.6 L1230.8,860.8 L1251.5,860.8 L1255.5,849 L1272.3,849 L1276.3,837.1 L1296.8,837.1 L1300.8,825.3 L1320.5,825.3 L1324.5,813.5 L1345.7,813.5 L1349.7,801.7 L1370.8,801.7 L1374.8,789.8 L1396,789.8 L1400,778 L1419.8,778 L1423.8,766.2 L1444.2,766.2 L1448.2,754.4 L1468.7,754.4 L1472.7,742.5 L1496.7,742.5 L1500.7,730.7 L1530,730.7 L1530,741 L1502.9,741 L1498.9,752.8 L1474.9,752.8 L1470.9,764.6 L1450.4,764.6 L1446.4,776.5 L1426,776.5 L1422,788.3 L1402.2,788.3 L1398.2,800.1 L1377,800.1 L1373,812 L1351.9,812 L1347.9,823.8 L1326.7,823.8 L1322.7,835.6 L1303,835.6 L1299,847.4 L1278.5,847.4 L1274.5,859.2 L1257.7,859.2 L1253.7,871.1 L1233,871.1 L1229,882.9 L1208,882.9 L1204,894.7 L1184.4,894.7 L1180.4,906.5 L1159.4,906.5 L1155.4,918.4 L1135.1,918.4 L1131.1,930.2 L1110.1,930.2 L1106.1,942 L1085.1,942 L1081.1,953.8 L1060.8,953.8 L1056.8,965.7 L1032.3,965.7 L1028.3,977.5 L1007.3,977.5 L1003.3,989.3 L982.3,989.3 L978.3,1001.1 L953.9,1001.1 L949.9,1013 L928.9,1013 L924.9,1024.8 L899.7,1024.8 L895.7,1036.6 L871.9,1036.6 L867.9,1048.5 L846.9,1048.5 L842.9,1060.3 L819.1,1060.3 L815.1,1072.1 L790,1072.1 L786,1083.9 L761.5,1083.9 L757.5,1095.8 L732.5,1095.8 L728.5,1107.6 L703.4,1107.6 L699.4,1119.4 L675,1119.4 L671,1131.2 L641.7,1131.2 L637.7,1143 L613,1143 L609,1154.9 L580.7,1154.9 L576.7,1166.7 L551.8,1166.7 L547.8,1178.5 L520,1178.5 L516,1190.3 L489.8,1190.3 L485.8,1202.2 L457.4,1202.2 L453.4,1214 L425.7,1214 L421.7,1225.8 L396,1225.8 L392,1237.6 L363,1237.6 L359,1249.5 L330.5,1249.5 L326.5,1261.3 L294,1262 L294,1251Z"/>
<path clip-path="url(#cz)" fill="none" stroke="#fff" stroke-width="16" stroke-linejoin="round" d="M274.2,157.2 L299,160.4 L302.7,160.9 L306.4,161.4 L310.1,161.9 L313.8,162.3 L317.5,162.8 L321.2,163.3 L324.9,163.8 L328.6,164.3 L332.3,164.8 L336,165.3 L339.7,165.8 L343.4,166.3 L347.1,166.9 L350.8,167.4 L354.5,167.9 L358.2,168.4 L361.9,168.9 L365.6,169.4 L369.3,170 L373,170.5 L376.7,171 L380.4,171.5 L384.1,172.1 L387.8,172.6 L391.5,173.1 L395.2,173.7 L398.9,174.2 L402.6,174.7 L406.3,175.3 L410,175.8 L413.7,176.4 L417.4,176.9 L421.1,177.5 L424.8,178 L428.5,178.6 L432.2,179.1 L435.9,179.7 L439.5,180.2 L443.2,180.8 L446.9,181.3 L450.6,181.9 L454.3,182.5 L458,183 L461.7,183.6 L465.4,184.2 L469.1,184.7 L472.8,185.3 L476.5,185.9 L480.2,186.5 L483.8,187 L487.5,187.6 L491.2,188.2 L494.9,188.8 L498.6,189.4 L502.3,189.9 L506,190.5 L509.7,191.1 L513.4,191.7 L517,192.3 L520.7,192.9 L524.4,193.5 L528.1,194.1 L531.8,194.7 L535.5,195.3 L539.2,195.9 L542.8,196.5 L546.5,197.1 L550.2,197.7 L553.9,198.3 L557.6,198.9 L561.3,199.5 L565,200.1 L568.6,200.7 L572.3,201.3 L576,201.9 L579.7,202.5 L583.4,203.1 L587.1,203.7 L590.7,204.4 L594.4,205 L598.1,205.6 L601.8,206.2 L605.5,206.8 L609.2,207.4 L612.8,208.1 L616.5,208.7 L620.2,209.3 L623.9,209.9 L627.6,210.6 L631.3,211.2 L634.9,211.8 L638.6,212.4 L642.3,213.1 L646,213.7 L649.7,214.3 L653.3,214.9 L657,215.6 L660.7,216.2 L664.4,216.8 L668.1,217.5 L671.8,218.1 L675.4,218.7 L679.1,219.4 L682.8,220 L686.5,220.6 L690.2,221.3 L693.8,221.9 L697.5,222.6 L701.2,223.2 L704.9,223.8 L708.6,224.5 L712.2,225.1 L715.9,225.8 L719.6,226.4 L723.3,227 L727,227.7 L730.6,228.3 L734.3,229 L738,229.6 L741.7,230.3 L745.3,230.9 L749,231.5 L752.7,232.2 L756.4,232.8 L760.1,233.5 L763.7,234.1 L767.4,234.8 L771.1,235.4 L774.8,236.1 L778.5,236.7 L782.1,237.4 L785.8,238.1 L789.5,238.7 L793.2,239.4 L796.8,240 L800.5,240.7 L804.2,241.3 L807.9,242 L811.5,242.7 L815.2,243.3 L818.9,244 L822.6,244.7 L826.2,245.4 L829.9,246 L833.6,246.7 L837.3,247.4 L840.9,248.1 L844.6,248.8 L848.3,249.5 L851.9,250.2 L855.6,250.8 L859.3,251.5 L862.9,252.2 L866.6,253 L870.3,253.7 L873.9,254.4 L877.6,255.1 L881.3,255.8 L884.9,256.5 L888.6,257.2 L892.3,258 L895.9,258.7 L899.6,259.4 L903.2,260.2 L906.9,260.9 L910.6,261.7 L914.2,262.4 L917.9,263.2 L921.5,263.9 L925.2,264.7 L928.8,265.4 L932.5,266.2 L936.1,267 L939.8,267.8 L943.5,268.6 L947.1,269.3 L950.7,270.1 L954.4,270.9 L958,271.7 L961.7,272.6 L965.3,273.4 L969,274.2 L972.6,275 L976.3,275.8 L979.9,276.7 L983.5,277.5 L987.2,278.4 L990.8,279.2 L994.4,280.1 L998.1,280.9 L1001.7,281.8 L1005.3,282.7 L1009,283.6 L1012.6,284.4 L1016.2,285.3 L1019.9,286.2 L1023.5,287.1 L1027.1,288.1 L1030.7,289 L1034.4,289.9 L1038,290.8 L1041.6,291.8 L1045.2,292.7 L1048.8,293.7 L1052.4,294.6 L1056,295.6 L1059.7,296.6 L1063.3,297.5 L1066.9,298.5 L1070.5,299.5 L1074.1,300.5 L1077.7,301.5 L1081.3,302.6 L1084.9,303.6 L1088.5,304.6 L1092.1,305.7 L1095.7,306.7 L1099.3,307.7 L1102.9,308.8 L1106.5,309.9 L1110,310.9 L1113.6,312 L1117.2,313.1 L1120.8,314.2 L1124.4,315.3 L1128,316.4 L1131.5,317.5 L1135.1,318.6 L1138.7,319.7 L1142.3,320.8 L1145.8,321.9 L1149.4,323 L1153,324.2 L1156.6,325.3 L1160.1,326.4 L1163.7,327.6 L1167.2,328.7 L1170.8,329.8 L1174.4,331 L1177.9,332.1 L1181.5,333.2 L1185,334.4 L1188.6,335.5 L1192.1,336.7 L1195.7,337.8 L1199.3,339 L1202.8,340.1 L1206.3,341.2 L1209.9,342.4 L1213.4,343.5 L1217,344.7 L1220.5,345.8 L1224.1,346.9 L1227.6,348.1 L1231.1,349.2 L1234.7,350.4 L1238.2,351.5 L1241.7,352.7 L1245.2,353.8 L1248.8,355 L1252.3,356.1 L1255.8,357.3 L1259.3,358.5 L1262.8,359.7 L1266.3,360.9 L1269.8,362.1 L1273.3,363.3 L1276.8,364.5 L1280.3,365.7 L1283.8,367 L1287.3,368.3 L1290.7,369.5 L1294.2,370.8 L1297.7,372.2 L1301.1,373.5 L1304.6,374.9 L1308,376.2 L1311.4,377.6 L1314.9,379 L1318.3,380.5 L1321.7,381.9 L1325.1,383.4 L1328.5,384.9 L1331.9,386.5 L1335.3,388 L1338.7,389.6 L1342,391.2 L1345.4,392.9 L1348.8,394.5 L1352.1,396.3 L1355.4,398 L1358.7,399.8 L1362.1,401.6 L1365.4,403.4 L1368.7,405.3 L1371.9,407.2 L1375.2,409.1 L1378.5,411.1 L1381.7,413.1 L1385,415.2 L1388.2,417.3 L1391.4,419.4 L1394.6,421.6 L1397.8,423.8 L1401,426.1 L1404.1,428.4 L1407.3,430.8 L1410.3,433.2 L1413.3,435.6 L1416.3,438.1 L1419.2,440.7 L1422.1,443.3 L1424.9,445.9 L1427.6,448.6 L1430.2,451.3 L1432.7,454.1 L1435.2,456.9 L1437.5,459.8 L1439.8,462.7 L1441.9,465.7 L1444,468.8 L1445.9,471.9 L1447.6,475 L1449.3,478.2 L1450.8,481.5 L1452.1,484.8 L1453.4,488.1 L1454.4,491.5 L1455.3,495 L1456,498.6 L1456.6,502.1 L1457,505.8 L1457.2,509.5 L1457.3,513.2 L1457.2,516.9 L1456.9,520.6 L1456.5,524.4 L1456,528.1 L1455.2,531.8 L1454.4,535.5 L1453.4,539.2 L1452.3,542.8 L1451,546.4 L1449.6,549.9 L1448.1,553.4 L1446.5,556.8 L1444.7,560 L1442.8,563.3 L1440.8,566.4 L1438.7,569.5 L1436.6,572.5 L1434.3,575.4 L1431.9,578.3 L1429.5,581.1 L1426.9,583.9 L1424.3,586.6 L1421.7,589.3 L1419,591.9 L1416.2,594.5 L1413.4,597 L1410.6,599.5 L1407.7,602 L1404.8,604.5 L1401.9,606.9 L1398.9,609.3 L1396,611.7 L1393,614.1 L1390,616.4 L1387.1,618.8 L1384.1,621.1 L1381.2,623.4 L1378.2,625.7 L1375.2,628 L1372.2,630.3 L1369.2,632.6 L1366.2,634.8 L1363.3,637.1 L1360.2,639.3 L1357.2,641.5 L1354.2,643.7 L1351.2,645.8 L1348.2,648 L1345.1,650.1 L1342.1,652.3 L1339,654.4 L1336,656.4 L1332.9,658.5 L1329.8,660.6 L1326.7,662.6 L1323.6,664.6 L1320.5,666.6 L1317.4,668.6 L1314.2,670.6 L1311.1,672.5 L1307.9,674.4 L1304.7,676.4 L1301.6,678.2 L1298.4,680.1 L1295.1,682 L1291.9,683.8 L1288.7,685.6 L1285.4,687.4 L1282.2,689.2 L1278.9,691 L1275.6,692.7 L1272.3,694.4 L1269,696.2 L1265.7,697.9 L1262.4,699.6 L1259,701.2 L1255.7,702.9 L1252.4,704.6 L1249,706.2 L1245.6,707.8 L1242.3,709.5 L1238.9,711.1 L1235.5,712.7 L1232.1,714.3 L1228.7,715.9 L1225.3,717.4 L1221.9,719 L1218.5,720.6 L1215.1,722.1 L1211.7,723.7 L1208.3,725.2 L1204.9,726.8 L1201.4,728.3 L1198,729.9 L1194.6,731.4 L1191.2,732.9 L1187.7,734.5 L1184.3,736 L1180.9,737.5 L1177.5,739.1 L1174,740.6 L1170.6,742.1 L1167.2,743.7 L1163.8,745.2 L1160.3,746.7 L1156.9,748.3 L1153.5,749.8 L1150.1,751.4 L1146.7,752.9 L1143.3,754.5 L1139.9,756 L1136.5,757.6 L1133.1,759.2 L1129.7,760.7 L1126.3,762.3 L1122.9,763.8 L1119.5,765.4 L1116.2,767 L1112.8,768.5 L1109.4,770.1 L1106,771.7 L1102.6,773.2 L1099.2,774.8 L1095.8,776.3 L1092.4,777.9 L1089,779.4 L1085.7,781 L1082.3,782.5 L1078.9,784.1 L1075.5,785.6 L1072.1,787.2 L1068.7,788.7 L1065.3,790.2 L1061.9,791.8 L1058.5,793.3 L1055.1,794.8 L1051.7,796.3 L1048.3,797.8 L1044.9,799.3 L1041.4,800.8 L1038,802.3 L1034.6,803.8 L1031.2,805.2 L1027.7,806.7 L1024.3,808.2 L1020.9,809.6 L1017.4,811.1 L1014,812.5 L1010.5,813.9 L1007.1,815.4 L1003.7,816.8 L1000.2,818.2 L996.7,819.6 L993.3,821.1 L989.8,822.5 L986.4,823.9 L982.9,825.3 L979.5,826.7 L976,828.1 L972.5,829.5 L969.1,830.9 L965.6,832.3 L962.1,833.6 L958.7,835 L955.2,836.4 L951.7,837.8 L948.3,839.2 L944.8,840.6 L941.3,842 L937.8,843.3 L934.4,844.7 L930.9,846.1 L927.4,847.5 L924,848.9 L920.5,850.3 L917,851.7 L913.5,853.1 L910.1,854.4 L906.6,855.8 L903.1,857.2 L899.7,858.6 L896.2,860 L892.7,861.4 L889.3,862.8 L885.8,864.3 L882.4,865.7 L878.9,867.1 L875.4,868.5 L872,869.9 L868.5,871.3 L865.1,872.8 L861.6,874.2 L858.2,875.6 L854.7,877 L851.3,878.5 L847.8,879.9 L844.4,881.4 L840.9,882.8 L837.5,884.2 L834,885.7 L830.6,887.1 L827.2,888.6 L823.7,890 L820.3,891.5 L816.8,892.9 L813.4,894.4 L809.9,895.8 L806.5,897.3 L803.1,898.8 L799.6,900.2 L796.2,901.7 L792.8,903.2 L789.3,904.6 L785.9,906.1 L782.5,907.6 L779,909 L775.6,910.5 L772.2,912 L768.7,913.5 L765.3,914.9 L761.9,916.4 L758.4,917.9 L755,919.4 L751.6,920.9 L748.2,922.3 L744.7,923.8 L741.3,925.3 L737.9,926.8 L734.4,928.3 L731,929.8 L727.6,931.3 L724.2,932.8 L720.7,934.2 L717.3,935.7 L713.9,937.2 L710.5,938.7 L707,940.2 L703.6,941.7 L700.2,943.2 L696.8,944.7 L693.4,946.2 L689.9,947.7 L686.5,949.2 L683.1,950.7 L679.7,952.2 L676.2,953.7 L672.8,955.2 L669.4,956.7 L666,958.2 L662.6,959.7 L659.1,961.2 L655.7,962.7 L652.3,964.2 L648.9,965.7 L645.5,967.2 L642,968.7 L638.6,970.2 L635.2,971.7 L631.8,973.2 L628.3,974.7 L624.9,976.2 L621.5,977.7 L618.1,979.2 L614.7,980.7 L611.2,982.2 L607.8,983.7 L604.4,985.2 L601,986.7 L597.6,988.2 L594.1,989.7 L590.7,991.2 L587.3,992.7 L583.9,994.2 L580.5,995.8 L577.1,997.3 L573.7,998.8 L570.3,1000.3 L566.9,1001.9 L563.5,1003.4 L560.1,1005 L556.7,1006.5 L553.3,1008.1 L549.9,1009.6 L546.5,1011.2 L543.1,1012.8 L539.7,1014.3 L536.4,1015.9 L533,1017.5 L529.6,1019.1 L526.2,1020.7 L522.9,1022.3 L519.5,1024 L516.2,1025.6 L512.8,1027.2 L509.5,1028.9 L506.1,1030.5 L502.8,1032.2 L499.4,1033.9 L496.1,1035.5 L492.8,1037.2 L489.5,1038.9 L486.1,1040.7 L482.8,1042.4 L479.5,1044.1 L476.2,1045.9 L472.9,1047.6 L469.7,1049.4 L466.4,1051.2 L463.1,1052.9 L459.8,1054.8 L456.6,1056.6 L453.3,1058.4 L450.1,1060.2 L446.8,1062.1 L443.6,1064 L440.4,1065.9 L437.1,1067.7 L433.9,1069.7 L430.7,1071.6 L427.5,1073.5 L424.3,1075.5 L421.1,1077.5 L418,1079.4 L414.8,1081.5 L411.6,1083.5 L408.5,1085.5 L405.4,1087.6 L402.2,1089.6 L399.1,1091.7 L396,1093.8 L392.9,1096 L389.9,1098.1 L386.8,1100.3 L383.7,1102.4 L380.7,1104.6 L377.7,1106.8 L374.7,1109.1 L371.7,1111.3 L368.7,1113.6 L365.8,1115.9 L362.9,1118.2 L359.9,1120.6 L357,1122.9 L354.2,1125.3 L351.3,1127.7 L348.5,1130.1 L345.6,1132.6 L342.8,1135 L340.1,1137.5 L337.3,1140.1 L334.6,1142.6 L331.9,1145.1 L329.2,1147.7 L326.5,1150.3 L323.9,1153 L321.3,1155.6 L318.7,1158.3 L316.1,1161 L313.6,1163.8 L311.1,1166.5 L308.6,1169.3 L306.2,1172.1 L303.8,1174.9 L301.4,1177.8 L299,1180.7 L283,1199.9"/>
<g fill="#000">
<rect x="294" y="79" width="1236" height="6"/>
<rect x="294" y="1262" width="1236" height="6"/>
<rect x="294" y="79" width="5" height="1189"/>
<rect x="1525" y="79" width="5" height="1189"/>
</g>
<g stroke="#000" stroke-linecap="round">
<line x1="273.5" y1="1265" x2="296" y2="1265" stroke-width="5.5"/>
<line x1="284.5" y1="1146.7" x2="296" y2="1146.7" stroke-width="5.5"/>
<line x1="273.5" y1="1028.4" x2="296" y2="1028.4" stroke-width="5.5"/>
<line x1="284.5" y1="910.1" x2="296" y2="910.1" stroke-width="5.5"/>
<line x1="273.5" y1="791.8" x2="296" y2="791.8" stroke-width="5.5"/>
<line x1="284.5" y1="673.5" x2="296" y2="673.5" stroke-width="5.5"/>
<line x1="273.5" y1="555.2" x2="296" y2="555.2" stroke-width="5.5"/>
<line x1="284.5" y1="436.9" x2="296" y2="436.9" stroke-width="5.5"/>
<line x1="273.5" y1="318.6" x2="296" y2="318.6" stroke-width="5.5"/>
<line x1="284.5" y1="200.3" x2="296" y2="200.3" stroke-width="5.5"/>
<line x1="273.5" y1="82" x2="296" y2="82" stroke-width="5.5"/>
<line x1="296.5" y1="1265" x2="296.5" y2="1287.5" stroke-width="5"/>
<line x1="399.1" y1="1265" x2="399.1" y2="1275.5" stroke-width="5"/>
<line x1="501.7" y1="1265" x2="501.7" y2="1287.5" stroke-width="5"/>
<line x1="604.2" y1="1265" x2="604.2" y2="1275.5" stroke-width="5"/>
<line x1="706.8" y1="1265" x2="706.8" y2="1287.5" stroke-width="5"/>
<line x1="809.4" y1="1265" x2="809.4" y2="1275.5" stroke-width="5"/>
<line x1="912" y1="1265" x2="912" y2="1287.5" stroke-width="5"/>
<line x1="1014.6" y1="1265" x2="1014.6" y2="1275.5" stroke-width="5"/>
<line x1="1117.2" y1="1265" x2="1117.2" y2="1287.5" stroke-width="5"/>
<line x1="1219.8" y1="1265" x2="1219.8" y2="1275.5" stroke-width="5"/>
<line x1="1322.3" y1="1265" x2="1322.3" y2="1287.5" stroke-width="5"/>
<line x1="1424.9" y1="1265" x2="1424.9" y2="1275.5" stroke-width="5"/>
<line x1="1527.5" y1="1265" x2="1527.5" y2="1287.5" stroke-width="5"/>
</g>
<g fill="#000">
<text transform="translate(257,1283) scale(1,1.04)" font-size="66" text-anchor="end" filter="url(#tc)">0.0</text>
<text transform="translate(257,1046.4) scale(1,1.04)" font-size="66" text-anchor="end" filter="url(#tc)">0.2</text>
<text transform="translate(257,809.8) scale(1,1.04)" font-size="66" text-anchor="end" filter="url(#tc)">0.4</text>
<text transform="translate(257,573.2) scale(1,1.04)" font-size="66" text-anchor="end" filter="url(#tc)">0.6</text>
<text transform="translate(257,336.6) scale(1,1.04)" font-size="66" text-anchor="end" filter="url(#tc)">0.8</text>
<text transform="translate(257,100) scale(1,1.04)" font-size="66" text-anchor="end" filter="url(#tc)">1.0</text>
<text transform="translate(296.5,1355) scale(1,1.04)" font-size="66" text-anchor="middle" filter="url(#tc)">0</text>
<text transform="translate(501.7,1355) scale(1,1.04)" font-size="66" text-anchor="middle" filter="url(#tc)">1000</text>
<text transform="translate(706.8,1355) scale(1,1.04)" font-size="66" text-anchor="middle" filter="url(#tc)">2000</text>
<text transform="translate(912,1355) scale(1,1.04)" font-size="66" text-anchor="middle" filter="url(#tc)">3000</text>
<text transform="translate(1117.2,1355) scale(1,1.04)" font-size="66" text-anchor="middle" filter="url(#tc)">4000</text>
<text transform="translate(1322.3,1355) scale(1,1.04)" font-size="66" text-anchor="middle" filter="url(#tc)">5000</text>
<text transform="translate(1527.5,1355) scale(1,1.04)" font-size="66" text-anchor="middle" filter="url(#tc)">6000</text>
</g>
<text transform="translate(911.5,1477) scale(1,1.02)" font-size="80" text-anchor="middle" filter="url(#tc)">Output Power (W)</text>
<text transform="translate(102,726.3) rotate(-90) scale(1,1.02)" font-size="80" text-anchor="middle" filter="url(#tc)">Gain</text>
<text transform="translate(1961,661.2) rotate(-90) scale(1,1.02)" font-size="80" text-anchor="middle" filter="url(#tc)">Efficiency</text>
<rect x="1546" y="129" width="125" height="99.5" fill="#ff0000"/>
<rect x="1546" y="228" width="125" height="99.5" fill="#ff8000"/>
<rect x="1546" y="327" width="125" height="99.5" fill="#ffff00"/>
<rect x="1546" y="426" width="125" height="99.5" fill="#00ff00"/>
<rect x="1546" y="525" width="125" height="99.5" fill="#00ff80"/>
<rect x="1546" y="624" width="125" height="99.5" fill="#00ffff"/>
<rect x="1546" y="723" width="125" height="99.5" fill="#0080ff"/>
<rect x="1546" y="822" width="125" height="99.5" fill="#0000ff"/>
<rect x="1546" y="921" width="125" height="99.5" fill="#000080"/>
<rect x="1546" y="1020" width="125" height="99.5" fill="#000040"/>
<rect x="1546" y="1119" width="125" height="99.5" fill="#000000"/>
<g fill="#000">
<text transform="translate(1686.5,254.8) scale(1,1.04)" font-size="67" filter="url(#tc)">0.98</text>
<text transform="translate(1686.5,353.8) scale(1,1.04)" font-size="67" filter="url(#tc)">0.96</text>
<text transform="translate(1686.5,452.8) scale(1,1.04)" font-size="67" filter="url(#tc)">0.94</text>
<text transform="translate(1686.5,551.8) scale(1,1.04)" font-size="67" filter="url(#tc)">0.92</text>
<text transform="translate(1686.5,650.8) scale(1,1.04)" font-size="67" filter="url(#tc)">0.90</text>
<text transform="translate(1686.5,749.8) scale(1,1.04)" font-size="67" filter="url(#tc)">0.88</text>
<text transform="translate(1686.5,848.8) scale(1,1.04)" font-size="67" filter="url(#tc)">0.86</text>
<text transform="translate(1686.5,947.8) scale(1,1.04)" font-size="67" filter="url(#tc)">0.84</text>
<text transform="translate(1686.5,1046.8) scale(1,1.04)" font-size="67" filter="url(#tc)">0.82</text>
<text transform="translate(1686.5,1145.8) scale(1,1.04)" font-size="67" filter="url(#tc)">0.80</text>
</g>
<text transform="translate(933,176.2) scale(1,1.04)" font-size="64" font-weight="bold" fill="#fff" filter="url(#tc)">ZVS Boundary</text>
<line x1="1123.5" y1="204" x2="1094" y2="244" stroke="#fff" stroke-width="8.5" stroke-linecap="round"/>
<polygon points="1085,237.5 1104.5,251 1066.5,283.5" fill="#fff" stroke="#fff" stroke-width="5" stroke-linejoin="round"/>
<text transform="translate(1081,1095.7) scale(1,1.04)" font-size="66" filter="url(#tc)">P</text>
<text transform="translate(1126,1121.8) scale(1,1.04)" font-size="40" filter="url(#tc)">LOSS</text>
<text transform="translate(1252,1095.7) scale(1,1.04)" font-size="66" filter="url(#tc)">= 120 W</text>
<line x1="1162.5" y1="914" x2="1211" y2="992" stroke="#000" stroke-width="8" stroke-linecap="round"/>
<polygon points="1202,999 1222,986.5 1236.5,1032.5" fill="#000" stroke="#000" stroke-width="5" stroke-linejoin="round"/>
</svg></body></html>
